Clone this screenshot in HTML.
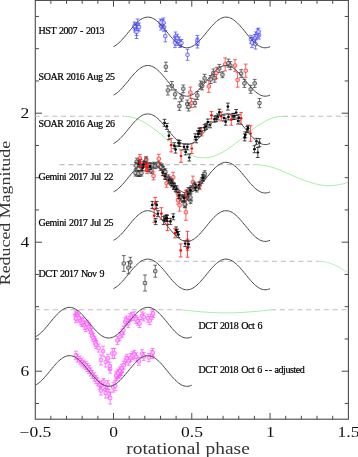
<!DOCTYPE html>
<html><head><meta charset="utf-8"><style>
html,body{margin:0;padding:0;background:#fff;width:358px;height:457px;overflow:hidden}
svg{display:block;will-change:transform}
</style></head><body>
<svg width="358" height="457" viewBox="0 0 358 457">
<rect x="35.3" y="0.4" width="313.09999999999997" height="418.8" fill="none" stroke="#4a4a4a" stroke-width="1.1"/>
<line x1="50.88" y1="419.2" x2="50.88" y2="415.8" stroke="#4a4a4a" stroke-width="1"/>
<line x1="50.88" y1="0.4" x2="50.88" y2="3.8" stroke="#4a4a4a" stroke-width="1"/>
<line x1="66.53" y1="419.2" x2="66.53" y2="415.8" stroke="#4a4a4a" stroke-width="1"/>
<line x1="66.53" y1="0.4" x2="66.53" y2="3.8" stroke="#4a4a4a" stroke-width="1"/>
<line x1="82.19" y1="419.2" x2="82.19" y2="415.8" stroke="#4a4a4a" stroke-width="1"/>
<line x1="82.19" y1="0.4" x2="82.19" y2="3.8" stroke="#4a4a4a" stroke-width="1"/>
<line x1="97.84" y1="419.2" x2="97.84" y2="415.8" stroke="#4a4a4a" stroke-width="1"/>
<line x1="97.84" y1="0.4" x2="97.84" y2="3.8" stroke="#4a4a4a" stroke-width="1"/>
<line x1="113.50" y1="419.2" x2="113.50" y2="412.9" stroke="#4a4a4a" stroke-width="1"/>
<line x1="113.50" y1="0.4" x2="113.50" y2="6.7" stroke="#4a4a4a" stroke-width="1"/>
<line x1="129.16" y1="419.2" x2="129.16" y2="415.8" stroke="#4a4a4a" stroke-width="1"/>
<line x1="129.16" y1="0.4" x2="129.16" y2="3.8" stroke="#4a4a4a" stroke-width="1"/>
<line x1="144.81" y1="419.2" x2="144.81" y2="415.8" stroke="#4a4a4a" stroke-width="1"/>
<line x1="144.81" y1="0.4" x2="144.81" y2="3.8" stroke="#4a4a4a" stroke-width="1"/>
<line x1="160.47" y1="419.2" x2="160.47" y2="415.8" stroke="#4a4a4a" stroke-width="1"/>
<line x1="160.47" y1="0.4" x2="160.47" y2="3.8" stroke="#4a4a4a" stroke-width="1"/>
<line x1="176.12" y1="419.2" x2="176.12" y2="415.8" stroke="#4a4a4a" stroke-width="1"/>
<line x1="176.12" y1="0.4" x2="176.12" y2="3.8" stroke="#4a4a4a" stroke-width="1"/>
<line x1="191.78" y1="419.2" x2="191.78" y2="412.9" stroke="#4a4a4a" stroke-width="1"/>
<line x1="191.78" y1="0.4" x2="191.78" y2="6.7" stroke="#4a4a4a" stroke-width="1"/>
<line x1="207.44" y1="419.2" x2="207.44" y2="415.8" stroke="#4a4a4a" stroke-width="1"/>
<line x1="207.44" y1="0.4" x2="207.44" y2="3.8" stroke="#4a4a4a" stroke-width="1"/>
<line x1="223.09" y1="419.2" x2="223.09" y2="415.8" stroke="#4a4a4a" stroke-width="1"/>
<line x1="223.09" y1="0.4" x2="223.09" y2="3.8" stroke="#4a4a4a" stroke-width="1"/>
<line x1="238.75" y1="419.2" x2="238.75" y2="415.8" stroke="#4a4a4a" stroke-width="1"/>
<line x1="238.75" y1="0.4" x2="238.75" y2="3.8" stroke="#4a4a4a" stroke-width="1"/>
<line x1="254.40" y1="419.2" x2="254.40" y2="415.8" stroke="#4a4a4a" stroke-width="1"/>
<line x1="254.40" y1="0.4" x2="254.40" y2="3.8" stroke="#4a4a4a" stroke-width="1"/>
<line x1="270.06" y1="419.2" x2="270.06" y2="412.9" stroke="#4a4a4a" stroke-width="1"/>
<line x1="270.06" y1="0.4" x2="270.06" y2="6.7" stroke="#4a4a4a" stroke-width="1"/>
<line x1="285.72" y1="419.2" x2="285.72" y2="415.8" stroke="#4a4a4a" stroke-width="1"/>
<line x1="285.72" y1="0.4" x2="285.72" y2="3.8" stroke="#4a4a4a" stroke-width="1"/>
<line x1="301.37" y1="419.2" x2="301.37" y2="415.8" stroke="#4a4a4a" stroke-width="1"/>
<line x1="301.37" y1="0.4" x2="301.37" y2="3.8" stroke="#4a4a4a" stroke-width="1"/>
<line x1="317.03" y1="419.2" x2="317.03" y2="415.8" stroke="#4a4a4a" stroke-width="1"/>
<line x1="317.03" y1="0.4" x2="317.03" y2="3.8" stroke="#4a4a4a" stroke-width="1"/>
<line x1="332.68" y1="419.2" x2="332.68" y2="415.8" stroke="#4a4a4a" stroke-width="1"/>
<line x1="332.68" y1="0.4" x2="332.68" y2="3.8" stroke="#4a4a4a" stroke-width="1"/>
<line x1="35.3" y1="16.45" x2="39.0" y2="16.45" stroke="#4a4a4a" stroke-width="1"/>
<line x1="348.4" y1="16.45" x2="344.7" y2="16.45" stroke="#4a4a4a" stroke-width="1"/>
<line x1="35.3" y1="48.70" x2="39.0" y2="48.70" stroke="#4a4a4a" stroke-width="1"/>
<line x1="348.4" y1="48.70" x2="344.7" y2="48.70" stroke="#4a4a4a" stroke-width="1"/>
<line x1="35.3" y1="80.95" x2="39.0" y2="80.95" stroke="#4a4a4a" stroke-width="1"/>
<line x1="348.4" y1="80.95" x2="344.7" y2="80.95" stroke="#4a4a4a" stroke-width="1"/>
<line x1="35.3" y1="113.20" x2="42.0" y2="113.20" stroke="#4a4a4a" stroke-width="1"/>
<line x1="348.4" y1="113.20" x2="341.7" y2="113.20" stroke="#4a4a4a" stroke-width="1"/>
<line x1="35.3" y1="145.45" x2="39.0" y2="145.45" stroke="#4a4a4a" stroke-width="1"/>
<line x1="348.4" y1="145.45" x2="344.7" y2="145.45" stroke="#4a4a4a" stroke-width="1"/>
<line x1="35.3" y1="177.70" x2="39.0" y2="177.70" stroke="#4a4a4a" stroke-width="1"/>
<line x1="348.4" y1="177.70" x2="344.7" y2="177.70" stroke="#4a4a4a" stroke-width="1"/>
<line x1="35.3" y1="209.95" x2="39.0" y2="209.95" stroke="#4a4a4a" stroke-width="1"/>
<line x1="348.4" y1="209.95" x2="344.7" y2="209.95" stroke="#4a4a4a" stroke-width="1"/>
<line x1="35.3" y1="242.20" x2="42.0" y2="242.20" stroke="#4a4a4a" stroke-width="1"/>
<line x1="348.4" y1="242.20" x2="341.7" y2="242.20" stroke="#4a4a4a" stroke-width="1"/>
<line x1="35.3" y1="274.45" x2="39.0" y2="274.45" stroke="#4a4a4a" stroke-width="1"/>
<line x1="348.4" y1="274.45" x2="344.7" y2="274.45" stroke="#4a4a4a" stroke-width="1"/>
<line x1="35.3" y1="306.70" x2="39.0" y2="306.70" stroke="#4a4a4a" stroke-width="1"/>
<line x1="348.4" y1="306.70" x2="344.7" y2="306.70" stroke="#4a4a4a" stroke-width="1"/>
<line x1="35.3" y1="338.95" x2="39.0" y2="338.95" stroke="#4a4a4a" stroke-width="1"/>
<line x1="348.4" y1="338.95" x2="344.7" y2="338.95" stroke="#4a4a4a" stroke-width="1"/>
<line x1="35.3" y1="371.20" x2="42.0" y2="371.20" stroke="#4a4a4a" stroke-width="1"/>
<line x1="348.4" y1="371.20" x2="341.7" y2="371.20" stroke="#4a4a4a" stroke-width="1"/>
<line x1="35.3" y1="403.45" x2="39.0" y2="403.45" stroke="#4a4a4a" stroke-width="1"/>
<line x1="348.4" y1="403.45" x2="344.7" y2="403.45" stroke="#4a4a4a" stroke-width="1"/>
<text transform="translate(24.9,117.80) scale(1.27,1)" text-anchor="middle" font-family="Liberation Serif, serif" font-size="13.8" fill="#111">2</text>
<text transform="translate(24.9,246.80) scale(1.27,1)" text-anchor="middle" font-family="Liberation Serif, serif" font-size="13.8" fill="#111">4</text>
<text transform="translate(24.9,375.80) scale(1.27,1)" text-anchor="middle" font-family="Liberation Serif, serif" font-size="13.8" fill="#111">6</text>
<text transform="translate(35.42,436.9) scale(1.27,1)" text-anchor="middle" font-family="Liberation Serif, serif" font-size="13.8" fill="#111">−0.5</text>
<text transform="translate(113.70,436.9) scale(1.27,1)" text-anchor="middle" font-family="Liberation Serif, serif" font-size="13.8" fill="#111">0</text>
<text transform="translate(191.98,436.9) scale(1.27,1)" text-anchor="middle" font-family="Liberation Serif, serif" font-size="13.8" fill="#111">0.5</text>
<text transform="translate(270.26,436.9) scale(1.27,1)" text-anchor="middle" font-family="Liberation Serif, serif" font-size="13.8" fill="#111">1</text>
<text transform="translate(348.54,436.9) scale(1.27,1)" text-anchor="middle" font-family="Liberation Serif, serif" font-size="13.8" fill="#111">1.5</text>
<text x="126.3" y="454.1" font-family="Liberation Serif, serif" font-size="17.5" fill="#333" textLength="123.5" lengthAdjust="spacingAndGlyphs">rotational phase</text>
<text transform="translate(10.2,285.3) rotate(-90)" font-family="Liberation Serif, serif" font-size="15.5" fill="#333" textLength="144.5" lengthAdjust="spacingAndGlyphs">Reduced Magnitude</text>
<text x="38.6" y="33.7" font-family="Liberation Serif, serif" font-size="10" fill="#000" stroke="#000" stroke-width="0.22" word-spacing="1.0" textLength="65.9" lengthAdjust="spacing">HST 2007 - 2013</text>
<text x="38.6" y="79.8" font-family="Liberation Serif, serif" font-size="10" fill="#000" stroke="#000" stroke-width="0.22" word-spacing="1.0" textLength="76.4" lengthAdjust="spacing">SOAR 2016 Aug 25</text>
<text x="38.6" y="126.8" font-family="Liberation Serif, serif" font-size="10" fill="#000" stroke="#000" stroke-width="0.22" word-spacing="1.0" textLength="76.4" lengthAdjust="spacing">SOAR 2016 Aug 26</text>
<text x="38.6" y="179.7" font-family="Liberation Serif, serif" font-size="10" fill="#000" stroke="#000" stroke-width="0.22" word-spacing="1.0" textLength="74.9" lengthAdjust="spacing">Gemini 2017 Jul 22</text>
<text x="38.6" y="226.0" font-family="Liberation Serif, serif" font-size="10" fill="#000" stroke="#000" stroke-width="0.22" word-spacing="1.0" textLength="74.9" lengthAdjust="spacing">Gemini 2017 Jul 25</text>
<text x="38.6" y="277.1" font-family="Liberation Serif, serif" font-size="10" fill="#000" stroke="#000" stroke-width="0.22" word-spacing="1.0" textLength="66.0" lengthAdjust="spacing">DCT 2017 Nov 9</text>
<text x="198.5" y="329.0" font-family="Liberation Serif, serif" font-size="10" fill="#000" stroke="#000" stroke-width="0.22" word-spacing="1.0" textLength="63.9" lengthAdjust="spacing">DCT 2018 Oct 6</text>
<text x="198.5" y="373.0" font-family="Liberation Serif, serif" font-size="10" fill="#000" stroke="#000" stroke-width="0.22" word-spacing="1.0" textLength="106.2" lengthAdjust="spacing">DCT 2018 Oct 6 -<tspan dx="0.9">-</tspan> adjusted</text>
<line x1="34.7" y1="116.3" x2="124" y2="116.3" stroke="#bdbdbd" stroke-width="1.1" stroke-dasharray="5,3.8" fill="none"/>
<path d="M124.50,116.30 L127.14,116.41 L129.78,116.75 L132.43,117.32 L135.07,118.09 L137.71,119.08 L140.35,120.26 L142.99,121.63 L145.63,123.17 L148.28,124.85 L150.92,126.67 L153.56,128.61 L156.20,130.64 L158.84,132.74 L161.48,134.88 L164.12,137.05 L166.77,139.22 L169.41,141.36 L172.05,143.46 L174.69,145.49 L177.33,147.43 L179.97,149.25 L182.62,150.93 L185.26,152.47 L187.90,153.84 L190.54,155.02 L193.18,156.01 L195.82,156.78 L198.47,157.35 L201.11,157.69 L203.75,157.80 L206.39,157.69 L209.03,157.35 L211.68,156.78 L214.32,156.01 L216.96,155.02 L219.60,153.84 L222.24,152.47 L224.88,150.93 L227.53,149.25 L230.17,147.42 L232.81,145.49 L235.45,143.46 L238.09,141.36 L240.73,139.22 L243.38,137.05 L246.02,134.88 L248.66,132.74 L251.30,130.64 L253.94,128.61 L256.58,126.67 L259.23,124.85 L261.87,123.17 L264.51,121.63 L267.15,120.26 L269.79,119.08 L272.43,118.09 L275.07,117.32 L277.72,116.75 L280.36,116.41 L283.00,116.30" stroke="#a6eca6" stroke-width="1" fill="none"/>
<line x1="283" y1="116.3" x2="348" y2="116.3" stroke="#bdbdbd" stroke-width="1.1" stroke-dasharray="5,3.8" fill="none"/>
<line x1="59.6" y1="164.6" x2="254.5" y2="164.6" stroke="#bdbdbd" stroke-width="1.1" stroke-dasharray="5,3.8" fill="none"/>
<path d="M254.50,164.60 L256.06,164.62 L257.62,164.69 L259.18,164.80 L260.73,164.96 L262.29,165.16 L263.85,165.41 L265.41,165.69 L266.97,166.02 L268.52,166.38 L270.08,166.79 L271.64,167.23 L273.20,167.70 L274.76,168.20 L276.32,168.74 L277.88,169.30 L279.43,169.89 L280.99,170.50 L282.55,171.13 L284.11,171.77 L285.67,172.44 L287.23,173.11 L288.78,173.79 L290.34,174.48 L291.90,175.17 L293.46,175.86 L295.02,176.54 L296.57,177.22 L298.13,177.89 L299.69,178.55 L301.25,179.19 L302.81,179.82 L304.37,180.43 L305.93,181.01 L307.48,181.57 L309.04,182.10 L310.60,182.59 L312.16,183.06 L313.72,183.49 L315.27,183.89 L316.83,184.25 L318.39,184.57 L319.95,184.84 L321.51,185.08 L323.07,185.27 L324.62,185.42 L326.18,185.53 L327.74,185.59 L329.30,185.60 L330.86,185.57 L332.42,185.49 L333.98,185.37 L335.53,185.20 L337.09,184.99 L338.65,184.74 L340.21,184.45 L341.77,184.11 L343.32,183.74 L344.88,183.33 L346.44,182.89 L348.00,182.41" stroke="#a6eca6" stroke-width="1" fill="none"/>
<line x1="140" y1="261.3" x2="318.5" y2="261.3" stroke="#bdbdbd" stroke-width="1.1" stroke-dasharray="5,3.8" fill="none"/>
<path d="M318.50,261.30 L318.99,261.30 L319.48,261.31 L319.98,261.33 L320.47,261.36 L320.96,261.39 L321.45,261.43 L321.94,261.48 L322.43,261.53 L322.93,261.59 L323.42,261.66 L323.91,261.73 L324.40,261.82 L324.89,261.91 L325.38,262.00 L325.88,262.10 L326.37,262.21 L326.86,262.33 L327.35,262.45 L327.84,262.58 L328.33,262.72 L328.82,262.87 L329.32,263.02 L329.81,263.17 L330.30,263.33 L330.79,263.50 L331.28,263.68 L331.77,263.86 L332.27,264.05 L332.76,264.24 L333.25,264.44 L333.74,264.65 L334.23,264.86 L334.73,265.08 L335.22,265.30 L335.71,265.53 L336.20,265.76 L336.69,266.00 L337.18,266.25 L337.68,266.50 L338.17,266.75 L338.66,267.01 L339.15,267.27 L339.64,267.54 L340.13,267.82 L340.62,268.09 L341.12,268.37 L341.61,268.66 L342.10,268.95 L342.59,269.25 L343.08,269.54 L343.57,269.85 L344.07,270.15 L344.56,270.46 L345.05,270.77 L345.54,271.09 L346.03,271.41 L346.52,271.73 L347.02,272.05 L347.51,272.38 L348.00,272.71" stroke="#a6eca6" stroke-width="1" fill="none"/>
<line x1="35.2" y1="309.8" x2="181" y2="309.8" stroke="#bdbdbd" stroke-width="1.1" stroke-dasharray="5,3.8" fill="none"/>
<path d="M181,309.8 L181.0,309.80 L182.5,309.96 L184.0,310.12 L185.5,310.28 L187.0,310.44 L188.5,310.60 L190.0,310.76 L191.5,310.91 L193.0,311.06 L194.5,311.21 L196.0,311.35 L197.5,311.49 L199.0,311.62 L200.5,311.75 L202.0,311.87 L203.5,311.99 L205.0,312.10 L206.5,312.21 L208.0,312.31 L209.5,312.40 L211.0,312.48 L212.5,312.56 L214.0,312.63 L215.5,312.69 L217.0,312.75 L218.5,312.79 L220.0,312.83 L221.5,312.86 L223.0,312.88 L224.5,312.90 L226.0,312.90 L227.5,312.90 L229.0,312.88 L230.5,312.86 L232.0,312.83 L233.5,312.79 L235.0,312.75 L236.5,312.69 L238.0,312.63 L239.5,312.56 L241.0,312.48 L242.5,312.40 L244.0,312.31 L245.5,312.21 L247.0,312.10 L248.5,311.99 L250.0,311.87 L251.5,311.75 L253.0,311.62 L254.5,311.49 L256.0,311.35 L257.5,311.21 L259.0,311.06 L260.5,310.91 L262.0,310.76 L263.5,310.60 L265.0,310.44 L266.5,310.28 L268.0,310.12 L269.5,309.96 L271.0,309.80" stroke="#a6eca6" stroke-width="1" fill="none"/>
<line x1="271" y1="309.8" x2="348" y2="309.8" stroke="#bdbdbd" stroke-width="1.1" stroke-dasharray="5,3.8" fill="none"/>
<path d="M135.7,19.0h3.8M137.6,19.0V23.3M137.6,26.3V30.6M135.7,30.6h3.8" stroke="#4646ff" stroke-width="0.7" fill="none"/>
<rect x="135.9" y="23.2" width="3.4" height="3.2" rx="0.7" fill="#dcdcff" stroke="#4646ff" stroke-width="0.7"/>
<path d="M133.1,23.0h3.8M135.0,23.0V26.0M135.0,29.0V32.0M133.1,32.0h3.8" stroke="#4646ff" stroke-width="0.7" fill="none"/>
<rect x="133.3" y="25.9" width="3.4" height="3.2" rx="0.7" fill="#dcdcff" stroke="#4646ff" stroke-width="0.7"/>
<path d="M134.6,24.5h3.8M136.5,24.5V28.5M136.5,31.5V35.5M134.6,35.5h3.8" stroke="#4646ff" stroke-width="0.7" fill="none"/>
<rect x="134.8" y="28.4" width="3.4" height="3.2" rx="0.7" fill="#dcdcff" stroke="#4646ff" stroke-width="0.7"/>
<path d="M132.6,22.0h3.8M134.5,22.0V24.5M134.5,27.5V30.0M132.6,30.0h3.8" stroke="#4646ff" stroke-width="0.7" fill="none"/>
<rect x="132.8" y="24.4" width="3.4" height="3.2" rx="0.7" fill="#dcdcff" stroke="#4646ff" stroke-width="0.7"/>
<path d="M137.1,23.0h3.8M139.0,23.0V25.5M139.0,28.5V31.0M137.1,31.0h3.8" stroke="#4646ff" stroke-width="0.7" fill="none"/>
<rect x="137.3" y="25.4" width="3.4" height="3.2" rx="0.7" fill="#dcdcff" stroke="#4646ff" stroke-width="0.7"/>
<path d="M134.6,25.5h3.8M136.5,25.5V30.5M136.5,33.5V38.5M134.6,38.5h3.8" stroke="#4646ff" stroke-width="0.7" fill="none"/>
<rect x="134.8" y="30.4" width="3.4" height="3.2" rx="0.7" fill="#dcdcff" stroke="#4646ff" stroke-width="0.7"/>
<path d="M160.6,19.5h3.8M162.5,19.5V22.5M162.5,25.5V28.5M160.6,28.5h3.8" stroke="#4646ff" stroke-width="0.7" fill="none"/>
<rect x="160.8" y="22.4" width="3.4" height="3.2" rx="0.7" fill="#dcdcff" stroke="#4646ff" stroke-width="0.7"/>
<path d="M159.1,22.0h3.8M161.0,22.0V24.5M161.0,27.5V30.0M159.1,30.0h3.8" stroke="#4646ff" stroke-width="0.7" fill="none"/>
<rect x="159.3" y="24.4" width="3.4" height="3.2" rx="0.7" fill="#dcdcff" stroke="#4646ff" stroke-width="0.7"/>
<path d="M162.1,23.3h3.8M164.0,23.3V25.8M164.0,28.8V31.3M162.1,31.3h3.8" stroke="#4646ff" stroke-width="0.7" fill="none"/>
<rect x="162.3" y="25.7" width="3.4" height="3.2" rx="0.7" fill="#dcdcff" stroke="#4646ff" stroke-width="0.7"/>
<path d="M161.6,18.0h3.8M163.5,18.0V21.0M163.5,24.0V27.0M161.6,27.0h3.8" stroke="#4646ff" stroke-width="0.7" fill="none"/>
<rect x="161.8" y="20.9" width="3.4" height="3.2" rx="0.7" fill="#dcdcff" stroke="#4646ff" stroke-width="0.7"/>
<path d="M158.6,19.0h3.8M160.5,19.0V21.0M160.5,24.0V26.0M158.6,26.0h3.8" stroke="#4646ff" stroke-width="0.7" fill="none"/>
<rect x="158.8" y="20.9" width="3.4" height="3.2" rx="0.7" fill="#dcdcff" stroke="#4646ff" stroke-width="0.7"/>
<path d="M163.4,30.4h3.8M165.3,30.4V34.6M165.3,37.6V41.8M163.4,41.8h3.8" stroke="#4646ff" stroke-width="0.7" fill="none"/>
<rect x="163.6" y="34.5" width="3.4" height="3.2" rx="0.7" fill="#dcdcff" stroke="#4646ff" stroke-width="0.7"/>
<path d="M173.6,32.0h3.8M175.5,32.0V35.0M175.5,38.0V41.0M173.6,41.0h3.8" stroke="#4646ff" stroke-width="0.7" fill="none"/>
<rect x="173.8" y="34.9" width="3.4" height="3.2" rx="0.7" fill="#dcdcff" stroke="#4646ff" stroke-width="0.7"/>
<path d="M174.1,36.5h3.8M176.0,36.5V39.5M176.0,42.5V45.5M174.1,45.5h3.8" stroke="#4646ff" stroke-width="0.7" fill="none"/>
<rect x="174.3" y="39.4" width="3.4" height="3.2" rx="0.7" fill="#dcdcff" stroke="#4646ff" stroke-width="0.7"/>
<path d="M173.1,37.6h3.8M175.0,37.6V41.1M175.0,44.1V47.6M173.1,47.6h3.8" stroke="#4646ff" stroke-width="0.7" fill="none"/>
<rect x="173.3" y="41.0" width="3.4" height="3.2" rx="0.7" fill="#dcdcff" stroke="#4646ff" stroke-width="0.7"/>
<path d="M175.6,34.2h3.8M177.5,34.2V36.7M177.5,39.7V42.2M175.6,42.2h3.8" stroke="#4646ff" stroke-width="0.7" fill="none"/>
<rect x="175.8" y="36.6" width="3.4" height="3.2" rx="0.7" fill="#dcdcff" stroke="#4646ff" stroke-width="0.7"/>
<path d="M177.1,37.0h3.8M179.0,37.0V39.5M179.0,42.5V45.0M177.1,45.0h3.8" stroke="#4646ff" stroke-width="0.7" fill="none"/>
<rect x="177.3" y="39.4" width="3.4" height="3.2" rx="0.7" fill="#dcdcff" stroke="#4646ff" stroke-width="0.7"/>
<path d="M178.1,40.5h3.8M180.0,40.5V42.5M180.0,45.5V47.5M178.1,47.5h3.8" stroke="#4646ff" stroke-width="0.7" fill="none"/>
<rect x="178.3" y="42.4" width="3.4" height="3.2" rx="0.7" fill="#dcdcff" stroke="#4646ff" stroke-width="0.7"/>
<path d="M179.6,39.5h3.8M181.5,39.5V41.5M181.5,44.5V46.5M179.6,46.5h3.8" stroke="#4646ff" stroke-width="0.7" fill="none"/>
<rect x="179.8" y="41.4" width="3.4" height="3.2" rx="0.7" fill="#dcdcff" stroke="#4646ff" stroke-width="0.7"/>
<path d="M185.6,49.3h3.8M187.5,49.3V53.3M187.5,56.3V60.3M185.6,60.3h3.8" stroke="#4646ff" stroke-width="0.7" fill="none"/>
<rect x="185.8" y="53.2" width="3.4" height="3.2" rx="0.7" fill="#dcdcff" stroke="#4646ff" stroke-width="0.7"/>
<path d="M195.5,35.5h3.8M197.4,35.5V39.0M197.4,42.0V45.5M195.5,45.5h3.8" stroke="#4646ff" stroke-width="0.7" fill="none"/>
<rect x="195.7" y="38.9" width="3.4" height="3.2" rx="0.7" fill="#dcdcff" stroke="#4646ff" stroke-width="0.7"/>
<path d="M195.5,38.0h3.8M197.4,38.0V41.5M197.4,44.5V48.0M195.5,48.0h3.8" stroke="#4646ff" stroke-width="0.7" fill="none"/>
<rect x="195.7" y="41.4" width="3.4" height="3.2" rx="0.7" fill="#dcdcff" stroke="#4646ff" stroke-width="0.7"/>
<path d="M255.6,28.9h3.8M257.5,28.9V31.9M257.5,34.9V37.9M255.6,37.9h3.8" stroke="#4646ff" stroke-width="0.7" fill="none"/>
<rect x="255.8" y="31.8" width="3.4" height="3.2" rx="0.7" fill="#dcdcff" stroke="#4646ff" stroke-width="0.7"/>
<path d="M257.1,31.1h3.8M259.0,31.1V33.6M259.0,36.6V39.1M257.1,39.1h3.8" stroke="#4646ff" stroke-width="0.7" fill="none"/>
<rect x="257.3" y="33.5" width="3.4" height="3.2" rx="0.7" fill="#dcdcff" stroke="#4646ff" stroke-width="0.7"/>
<path d="M254.1,31.9h3.8M256.0,31.9V34.4M256.0,37.4V39.9M254.1,39.9h3.8" stroke="#4646ff" stroke-width="0.7" fill="none"/>
<rect x="254.3" y="34.3" width="3.4" height="3.2" rx="0.7" fill="#dcdcff" stroke="#4646ff" stroke-width="0.7"/>
<path d="M256.6,28.2h3.8M258.5,28.2V30.2M258.5,33.2V35.2M256.6,35.2h3.8" stroke="#4646ff" stroke-width="0.7" fill="none"/>
<rect x="256.8" y="30.1" width="3.4" height="3.2" rx="0.7" fill="#dcdcff" stroke="#4646ff" stroke-width="0.7"/>
<path d="M249.1,35.3h3.8M251.0,35.3V37.8M251.0,40.8V43.3M249.1,43.3h3.8" stroke="#4646ff" stroke-width="0.7" fill="none"/>
<rect x="249.3" y="37.7" width="3.4" height="3.2" rx="0.7" fill="#dcdcff" stroke="#4646ff" stroke-width="0.7"/>
<path d="M251.6,37.0h3.8M253.5,37.0V39.5M253.5,42.5V45.0M251.6,45.0h3.8" stroke="#4646ff" stroke-width="0.7" fill="none"/>
<rect x="251.8" y="39.4" width="3.4" height="3.2" rx="0.7" fill="#dcdcff" stroke="#4646ff" stroke-width="0.7"/>
<path d="M250.1,37.6h3.8M252.0,37.6V41.1M252.0,44.1V47.6M250.1,47.6h3.8" stroke="#4646ff" stroke-width="0.7" fill="none"/>
<rect x="250.3" y="41.0" width="3.4" height="3.2" rx="0.7" fill="#dcdcff" stroke="#4646ff" stroke-width="0.7"/>
<path d="M253.1,34.4h3.8M255.0,34.4V36.9M255.0,39.9V42.4M253.1,42.4h3.8" stroke="#4646ff" stroke-width="0.7" fill="none"/>
<rect x="253.3" y="36.8" width="3.4" height="3.2" rx="0.7" fill="#dcdcff" stroke="#4646ff" stroke-width="0.7"/>
<path d="M253.6,39.0h3.8M255.5,39.0V42.5M255.5,45.5V49.0M253.6,49.0h3.8" stroke="#4646ff" stroke-width="0.7" fill="none"/>
<rect x="253.8" y="42.4" width="3.4" height="3.2" rx="0.7" fill="#dcdcff" stroke="#4646ff" stroke-width="0.7"/>
<path d="M164.0,62.2h3.8M165.9,62.2V65.3M165.9,68.3V71.4M164.0,71.4h3.8" stroke="#303030" stroke-width="0.7" fill="none"/>
<rect x="164.2" y="65.2" width="3.4" height="3.2" rx="0.7" fill="#c8c8c8" stroke="#303030" stroke-width="0.7"/>
<path d="M166.0,85.8h3.8M167.9,85.8V88.9M167.9,91.9V95.0M166.0,95.0h3.8" stroke="#303030" stroke-width="0.7" fill="none"/>
<rect x="166.2" y="88.8" width="3.4" height="3.2" rx="0.7" fill="#c8c8c8" stroke="#303030" stroke-width="0.7"/>
<path d="M169.9,81.5h3.8M171.8,81.5V84.3M171.8,87.3V90.1M169.9,90.1h3.8" stroke="#303030" stroke-width="0.7" fill="none"/>
<rect x="170.1" y="84.2" width="3.4" height="3.2" rx="0.7" fill="#c8c8c8" stroke="#303030" stroke-width="0.7"/>
<path d="M173.2,89.8h3.8M175.1,89.8V92.8M175.1,95.8V98.8M173.2,98.8h3.8" stroke="#303030" stroke-width="0.7" fill="none"/>
<rect x="173.4" y="92.7" width="3.4" height="3.2" rx="0.7" fill="#c8c8c8" stroke="#303030" stroke-width="0.7"/>
<path d="M177.5,101.8h3.8M179.4,101.8V104.6M179.4,107.6V110.4M177.5,110.4h3.8" stroke="#303030" stroke-width="0.7" fill="none"/>
<rect x="177.7" y="104.5" width="3.4" height="3.2" rx="0.7" fill="#c8c8c8" stroke="#303030" stroke-width="0.7"/>
<path d="M179.7,94.0h3.8M181.6,94.0V96.1M181.6,99.1V101.2M179.7,101.2h3.8" stroke="#303030" stroke-width="0.7" fill="none"/>
<rect x="179.9" y="96.0" width="3.4" height="3.2" rx="0.7" fill="#c8c8c8" stroke="#303030" stroke-width="0.7"/>
<path d="M181.4,85.0h3.8M183.3,85.0V87.3M183.3,90.3V92.6M181.4,92.6h3.8" stroke="#303030" stroke-width="0.7" fill="none"/>
<rect x="181.6" y="87.2" width="3.4" height="3.2" rx="0.7" fill="#c8c8c8" stroke="#303030" stroke-width="0.7"/>
<path d="M188.5,87.1h3.8M190.4,87.1V91.1M190.4,94.1V98.1M188.5,98.1h3.8" stroke="#ff2020" stroke-width="0.7" fill="none"/>
<rect x="188.7" y="91.0" width="3.4" height="3.2" rx="0.7" fill="#ffc8c8" stroke="#ff2020" stroke-width="0.7"/>
<path d="M189.7,98.5h3.8M191.6,98.5V101.5M191.6,104.5V107.5M189.7,107.5h3.8" stroke="#ff2020" stroke-width="0.7" fill="none"/>
<rect x="189.9" y="101.4" width="3.4" height="3.2" rx="0.7" fill="#ffc8c8" stroke="#ff2020" stroke-width="0.7"/>
<path d="M185.4,100.0h3.8M187.3,100.0V102.5M187.3,105.5V108.0M185.4,108.0h3.8" stroke="#303030" stroke-width="0.7" fill="none"/>
<rect x="185.6" y="102.4" width="3.4" height="3.2" rx="0.7" fill="#c8c8c8" stroke="#303030" stroke-width="0.7"/>
<path d="M186.7,103.0h3.8M188.6,103.0V105.5M188.6,108.5V111.0M186.7,111.0h3.8" stroke="#303030" stroke-width="0.7" fill="none"/>
<rect x="186.9" y="105.4" width="3.4" height="3.2" rx="0.7" fill="#c8c8c8" stroke="#303030" stroke-width="0.7"/>
<path d="M193.1,99.0h3.8M195.0,99.0V101.5M195.0,104.5V107.0M193.1,107.0h3.8" stroke="#303030" stroke-width="0.7" fill="none"/>
<rect x="193.3" y="101.4" width="3.4" height="3.2" rx="0.7" fill="#c8c8c8" stroke="#303030" stroke-width="0.7"/>
<path d="M195.4,91.5h3.8M197.3,91.5V94.0M197.3,97.0V99.5M195.4,99.5h3.8" stroke="#303030" stroke-width="0.7" fill="none"/>
<rect x="195.6" y="93.9" width="3.4" height="3.2" rx="0.7" fill="#c8c8c8" stroke="#303030" stroke-width="0.7"/>
<path d="M198.8,81.0h3.8M200.7,81.0V83.5M200.7,86.5V89.0M198.8,89.0h3.8" stroke="#303030" stroke-width="0.7" fill="none"/>
<rect x="199.0" y="83.4" width="3.4" height="3.2" rx="0.7" fill="#c8c8c8" stroke="#303030" stroke-width="0.7"/>
<path d="M200.3,81.9h3.8M202.2,81.9V84.4M202.2,87.4V89.9M200.3,89.9h3.8" stroke="#303030" stroke-width="0.7" fill="none"/>
<rect x="200.5" y="84.3" width="3.4" height="3.2" rx="0.7" fill="#c8c8c8" stroke="#303030" stroke-width="0.7"/>
<path d="M202.7,74.3h3.8M204.6,74.3V76.8M204.6,79.8V82.3M202.7,82.3h3.8" stroke="#303030" stroke-width="0.7" fill="none"/>
<rect x="202.9" y="76.7" width="3.4" height="3.2" rx="0.7" fill="#c8c8c8" stroke="#303030" stroke-width="0.7"/>
<path d="M206.9,80.4h3.8M208.8,80.4V84.9M208.8,87.9V92.4M206.9,92.4h3.8" stroke="#ff2020" stroke-width="0.7" fill="none"/>
<rect x="207.1" y="84.8" width="3.4" height="3.2" rx="0.7" fill="#ffc8c8" stroke="#ff2020" stroke-width="0.7"/>
<path d="M208.8,75.5h3.8M210.7,75.5V78.0M210.7,81.0V83.5M208.8,83.5h3.8" stroke="#303030" stroke-width="0.7" fill="none"/>
<rect x="209.0" y="77.9" width="3.4" height="3.2" rx="0.7" fill="#c8c8c8" stroke="#303030" stroke-width="0.7"/>
<path d="M211.5,69.0h3.8M213.4,69.0V71.5M213.4,74.5V77.0M211.5,77.0h3.8" stroke="#303030" stroke-width="0.7" fill="none"/>
<rect x="211.7" y="71.4" width="3.4" height="3.2" rx="0.7" fill="#c8c8c8" stroke="#303030" stroke-width="0.7"/>
<path d="M212.8,74.2h3.8M214.7,74.2V76.7M214.7,79.7V82.2M212.8,82.2h3.8" stroke="#303030" stroke-width="0.7" fill="none"/>
<rect x="213.0" y="76.6" width="3.4" height="3.2" rx="0.7" fill="#c8c8c8" stroke="#303030" stroke-width="0.7"/>
<path d="M214.5,67.3h3.8M216.4,67.3V71.5M216.4,74.5V78.7M214.5,78.7h3.8" stroke="#ff2020" stroke-width="0.7" fill="none"/>
<rect x="214.7" y="71.4" width="3.4" height="3.2" rx="0.7" fill="#ffc8c8" stroke="#ff2020" stroke-width="0.7"/>
<path d="M217.4,64.4h3.8M219.3,64.4V66.9M219.3,69.9V72.4M217.4,72.4h3.8" stroke="#303030" stroke-width="0.7" fill="none"/>
<rect x="217.6" y="66.8" width="3.4" height="3.2" rx="0.7" fill="#c8c8c8" stroke="#303030" stroke-width="0.7"/>
<path d="M220.6,71.7h3.8M222.5,71.7V73.2M222.5,76.2V77.7M220.6,77.7h3.8" stroke="#303030" stroke-width="0.7" fill="none"/>
<rect x="220.8" y="73.1" width="3.4" height="3.2" rx="0.7" fill="#c8c8c8" stroke="#303030" stroke-width="0.7"/>
<path d="M223.3,57.9h3.8M225.2,57.9V62.9M225.2,65.9V70.9M223.3,70.9h3.8" stroke="#ff2020" stroke-width="0.7" fill="none"/>
<rect x="223.5" y="62.8" width="3.4" height="3.2" rx="0.7" fill="#ffc8c8" stroke="#ff2020" stroke-width="0.7"/>
<path d="M226.5,59.1h3.8M228.4,59.1V61.6M228.4,64.6V67.1M226.5,67.1h3.8" stroke="#303030" stroke-width="0.7" fill="none"/>
<rect x="226.7" y="61.5" width="3.4" height="3.2" rx="0.7" fill="#c8c8c8" stroke="#303030" stroke-width="0.7"/>
<path d="M228.5,61.7h3.8M230.4,61.7V64.2M230.4,67.2V69.7M228.5,69.7h3.8" stroke="#303030" stroke-width="0.7" fill="none"/>
<rect x="228.7" y="64.1" width="3.4" height="3.2" rx="0.7" fill="#c8c8c8" stroke="#303030" stroke-width="0.7"/>
<path d="M233.1,59.7h3.8M235.0,59.7V64.0M235.0,67.0V71.3M233.1,71.3h3.8" stroke="#ff2020" stroke-width="0.7" fill="none"/>
<rect x="233.3" y="63.9" width="3.4" height="3.2" rx="0.7" fill="#ffc8c8" stroke="#ff2020" stroke-width="0.7"/>
<path d="M239.2,69.6h3.8M241.1,69.6V72.1M241.1,75.1V77.6M239.2,77.6h3.8" stroke="#303030" stroke-width="0.7" fill="none"/>
<rect x="239.4" y="72.0" width="3.4" height="3.2" rx="0.7" fill="#c8c8c8" stroke="#303030" stroke-width="0.7"/>
<path d="M243.8,64.1h3.8M245.7,64.1V69.2M245.7,72.2V77.3M243.8,77.3h3.8" stroke="#ff2020" stroke-width="0.7" fill="none"/>
<rect x="244.0" y="69.1" width="3.4" height="3.2" rx="0.7" fill="#ffc8c8" stroke="#ff2020" stroke-width="0.7"/>
<path d="M235.7,72.6h3.8M237.6,72.6V78.4M237.6,81.4V87.2M235.7,87.2h3.8" stroke="#ff2020" stroke-width="0.7" fill="none"/>
<rect x="235.9" y="78.3" width="3.4" height="3.2" rx="0.7" fill="#ffc8c8" stroke="#ff2020" stroke-width="0.7"/>
<path d="M242.5,79.4h3.8M244.4,79.4V81.9M244.4,84.9V87.4M242.5,87.4h3.8" stroke="#303030" stroke-width="0.7" fill="none"/>
<rect x="242.7" y="81.8" width="3.4" height="3.2" rx="0.7" fill="#c8c8c8" stroke="#303030" stroke-width="0.7"/>
<path d="M252.8,79.4h3.8M254.7,79.4V81.9M254.7,84.9V87.4M252.8,87.4h3.8" stroke="#303030" stroke-width="0.7" fill="none"/>
<rect x="253.0" y="81.8" width="3.4" height="3.2" rx="0.7" fill="#c8c8c8" stroke="#303030" stroke-width="0.7"/>
<path d="M248.8,85.3h3.8M250.7,85.3V87.8M250.7,90.8V93.3M248.8,93.3h3.8" stroke="#303030" stroke-width="0.7" fill="none"/>
<rect x="249.0" y="87.7" width="3.4" height="3.2" rx="0.7" fill="#c8c8c8" stroke="#303030" stroke-width="0.7"/>
<path d="M257.6,98.5h3.8M259.5,98.5V101.6M259.5,104.6V107.7M257.6,107.7h3.8" stroke="#303030" stroke-width="0.7" fill="none"/>
<rect x="257.8" y="101.5" width="3.4" height="3.2" rx="0.7" fill="#c8c8c8" stroke="#303030" stroke-width="0.7"/>
<path d="M162.6,119.3h3.8M164.5,119.3V121.3M164.5,124.3V126.3M162.6,126.3h3.8" stroke="#000" stroke-width="0.7" fill="none"/>
<circle cx="164.5" cy="122.8" r="1.35" fill="#000"/>
<path d="M165.0,123.4h3.8M166.9,123.4V124.9M166.9,127.9V129.4M165.0,129.4h3.8" stroke="#000" stroke-width="0.7" fill="none"/>
<circle cx="166.9" cy="126.4" r="1.35" fill="#000"/>
<path d="M167.0,131.7h3.8M168.9,131.7V134.2M168.9,137.2V139.7M167.0,139.7h3.8" stroke="#000" stroke-width="0.7" fill="none"/>
<circle cx="168.9" cy="135.7" r="1.35" fill="#000"/>
<path d="M169.3,138.5h3.8M171.2,138.5V143.7M171.2,146.7V151.9M169.3,151.9h3.8" stroke="#ff0000" stroke-width="0.7" fill="none"/>
<circle cx="171.2" cy="145.2" r="1.35" fill="#ff0000"/>
<path d="M172.4,142.7h3.8M174.3,142.7V144.2M174.3,147.2V148.7M172.4,148.7h3.8" stroke="#000" stroke-width="0.7" fill="none"/>
<circle cx="174.3" cy="145.7" r="1.35" fill="#000"/>
<path d="M173.7,146.1h3.8M175.6,146.1V148.1M175.6,151.1V153.1M173.7,153.1h3.8" stroke="#000" stroke-width="0.7" fill="none"/>
<circle cx="175.6" cy="149.6" r="1.35" fill="#000"/>
<path d="M176.5,139.9h3.8M178.4,139.9V141.4M178.4,144.4V145.9M176.5,145.9h3.8" stroke="#000" stroke-width="0.7" fill="none"/>
<circle cx="178.4" cy="142.9" r="1.35" fill="#000"/>
<path d="M177.7,140.5h3.8M179.6,140.5V142.0M179.6,145.0V146.5M177.7,146.5h3.8" stroke="#000" stroke-width="0.7" fill="none"/>
<circle cx="179.6" cy="143.5" r="1.35" fill="#000"/>
<path d="M179.1,149.9h3.8M181.0,149.9V154.6M181.0,157.6V162.3M179.1,162.3h3.8" stroke="#ff0000" stroke-width="0.7" fill="none"/>
<circle cx="181.0" cy="156.1" r="1.35" fill="#ff0000"/>
<path d="M182.1,143.8h3.8M184.0,143.8V145.3M184.0,148.3V149.8M182.1,149.8h3.8" stroke="#000" stroke-width="0.7" fill="none"/>
<circle cx="184.0" cy="146.8" r="1.35" fill="#000"/>
<path d="M183.8,148.9h3.8M185.7,148.9V150.4M185.7,153.4V154.9M183.8,154.9h3.8" stroke="#000" stroke-width="0.7" fill="none"/>
<circle cx="185.7" cy="151.9" r="1.35" fill="#000"/>
<path d="M185.5,143.8h3.8M187.4,143.8V145.3M187.4,148.3V149.8M185.5,149.8h3.8" stroke="#000" stroke-width="0.7" fill="none"/>
<circle cx="187.4" cy="146.8" r="1.35" fill="#000"/>
<path d="M189.9,143.5h3.8M191.8,143.5V147.0M191.8,150.0V153.5M189.9,153.5h3.8" stroke="#ff0000" stroke-width="0.7" fill="none"/>
<circle cx="191.8" cy="148.5" r="1.35" fill="#ff0000"/>
<path d="M187.4,154.0h3.8M189.3,154.0V156.0M189.3,159.0V161.0M187.4,161.0h3.8" stroke="#000" stroke-width="0.7" fill="none"/>
<circle cx="189.3" cy="157.5" r="1.35" fill="#000"/>
<path d="M193.3,133.8h3.8M195.2,133.8V135.3M195.2,138.3V139.8M193.3,139.8h3.8" stroke="#000" stroke-width="0.7" fill="none"/>
<circle cx="195.2" cy="136.8" r="1.35" fill="#000"/>
<path d="M194.4,136.8h3.8M196.3,136.8V138.3M196.3,141.3V142.8M194.4,142.8h3.8" stroke="#000" stroke-width="0.7" fill="none"/>
<circle cx="196.3" cy="139.8" r="1.35" fill="#000"/>
<path d="M196.1,131.0h3.8M198.0,131.0V132.5M198.0,135.5V137.0M196.1,137.0h3.8" stroke="#000" stroke-width="0.7" fill="none"/>
<circle cx="198.0" cy="134.0" r="1.35" fill="#000"/>
<path d="M197.2,128.2h3.8M199.1,128.2V129.7M199.1,132.7V134.2M197.2,134.2h3.8" stroke="#000" stroke-width="0.7" fill="none"/>
<circle cx="199.1" cy="131.2" r="1.35" fill="#000"/>
<path d="M196.5,130.7h3.8M198.4,130.7V132.2M198.4,135.2V136.7M196.5,136.7h3.8" stroke="#000" stroke-width="0.7" fill="none"/>
<circle cx="198.4" cy="133.7" r="1.35" fill="#000"/>
<path d="M199.8,127.5h3.8M201.7,127.5V130.2M201.7,133.2V135.9M199.8,135.9h3.8" stroke="#ff0000" stroke-width="0.7" fill="none"/>
<circle cx="201.7" cy="131.7" r="1.35" fill="#ff0000"/>
<path d="M198.1,127.9h3.8M200.0,127.9V129.4M200.0,132.4V133.9M198.1,133.9h3.8" stroke="#000" stroke-width="0.7" fill="none"/>
<circle cx="200.0" cy="130.9" r="1.35" fill="#000"/>
<path d="M202.6,124.6h3.8M204.5,124.6V126.1M204.5,129.1V130.6M202.6,130.6h3.8" stroke="#000" stroke-width="0.7" fill="none"/>
<circle cx="204.5" cy="127.6" r="1.35" fill="#000"/>
<path d="M204.3,123.4h3.8M206.2,123.4V124.9M206.2,127.9V129.4M204.3,129.4h3.8" stroke="#000" stroke-width="0.7" fill="none"/>
<circle cx="206.2" cy="126.4" r="1.35" fill="#000"/>
<path d="M205.9,119.0h3.8M207.8,119.0V120.5M207.8,123.5V125.0M205.9,125.0h3.8" stroke="#000" stroke-width="0.7" fill="none"/>
<circle cx="207.8" cy="122.0" r="1.35" fill="#000"/>
<path d="M208.2,121.8h3.8M210.1,121.8V123.3M210.1,126.3V127.8M208.2,127.8h3.8" stroke="#000" stroke-width="0.7" fill="none"/>
<circle cx="210.1" cy="124.8" r="1.35" fill="#000"/>
<path d="M209.6,111.6h3.8M211.5,111.6V113.8M211.5,116.8V119.0M209.6,119.0h3.8" stroke="#ff0000" stroke-width="0.7" fill="none"/>
<circle cx="211.5" cy="115.3" r="1.35" fill="#ff0000"/>
<path d="M212.7,116.2h3.8M214.6,116.2V117.7M214.6,120.7V122.2M212.7,122.2h3.8" stroke="#000" stroke-width="0.7" fill="none"/>
<circle cx="214.6" cy="119.2" r="1.35" fill="#000"/>
<path d="M214.3,115.6h3.8M216.2,115.6V117.1M216.2,120.1V121.6M214.3,121.6h3.8" stroke="#000" stroke-width="0.7" fill="none"/>
<circle cx="216.2" cy="118.6" r="1.35" fill="#000"/>
<path d="M216.0,113.9h3.8M217.9,113.9V115.4M217.9,118.4V119.9M216.0,119.9h3.8" stroke="#000" stroke-width="0.7" fill="none"/>
<circle cx="217.9" cy="116.9" r="1.35" fill="#000"/>
<path d="M217.5,109.2h3.8M219.4,109.2V110.7M219.4,113.7V115.2M217.5,115.2h3.8" stroke="#000" stroke-width="0.7" fill="none"/>
<circle cx="219.4" cy="112.2" r="1.35" fill="#000"/>
<path d="M219.4,111.9h3.8M221.3,111.9V114.9M221.3,117.9V120.9M219.4,120.9h3.8" stroke="#ff0000" stroke-width="0.7" fill="none"/>
<circle cx="221.3" cy="116.4" r="1.35" fill="#ff0000"/>
<path d="M222.1,115.0h3.8M224.0,115.0V116.5M224.0,119.5V121.0M222.1,121.0h3.8" stroke="#000" stroke-width="0.7" fill="none"/>
<circle cx="224.0" cy="118.0" r="1.35" fill="#000"/>
<path d="M223.8,118.2h3.8M225.7,118.2V120.2M225.7,123.2V125.2M223.8,125.2h3.8" stroke="#000" stroke-width="0.7" fill="none"/>
<circle cx="225.7" cy="121.7" r="1.35" fill="#000"/>
<path d="M226.6,113.9h3.8M228.5,113.9V115.4M228.5,118.4V119.9M226.6,119.9h3.8" stroke="#000" stroke-width="0.7" fill="none"/>
<circle cx="228.5" cy="116.9" r="1.35" fill="#000"/>
<path d="M226.0,103.1h3.8M227.9,103.1V105.1M227.9,108.1V110.1M226.0,110.1h3.8" stroke="#000" stroke-width="0.7" fill="none"/>
<circle cx="227.9" cy="106.6" r="1.35" fill="#000"/>
<path d="M231.1,113.4h3.8M233.0,113.4V114.9M233.0,117.9V119.4M231.1,119.4h3.8" stroke="#000" stroke-width="0.7" fill="none"/>
<circle cx="233.0" cy="116.4" r="1.35" fill="#000"/>
<path d="M229.4,114.2h3.8M231.3,114.2V118.2M231.3,121.2V125.2M229.4,125.2h3.8" stroke="#ff0000" stroke-width="0.7" fill="none"/>
<circle cx="231.3" cy="119.7" r="1.35" fill="#ff0000"/>
<path d="M232.3,113.4h3.8M234.2,113.4V114.9M234.2,117.9V119.4M232.3,119.4h3.8" stroke="#000" stroke-width="0.7" fill="none"/>
<circle cx="234.2" cy="116.4" r="1.35" fill="#000"/>
<path d="M234.3,109.5h3.8M236.2,109.5V111.0M236.2,114.0V115.5M234.3,115.5h3.8" stroke="#000" stroke-width="0.7" fill="none"/>
<circle cx="236.2" cy="112.5" r="1.35" fill="#000"/>
<path d="M236.2,118.0h3.8M238.1,118.0V119.5M238.1,122.5V124.0M236.2,124.0h3.8" stroke="#000" stroke-width="0.7" fill="none"/>
<circle cx="238.1" cy="121.0" r="1.35" fill="#000"/>
<path d="M239.2,112.4h3.8M241.1,112.4V116.9M241.1,119.9V124.4M239.2,124.4h3.8" stroke="#ff0000" stroke-width="0.7" fill="none"/>
<circle cx="241.1" cy="118.4" r="1.35" fill="#ff0000"/>
<path d="M236.9,114.7h3.8M238.8,114.7V116.2M238.8,119.2V120.7M236.9,120.7h3.8" stroke="#000" stroke-width="0.7" fill="none"/>
<circle cx="238.8" cy="117.7" r="1.35" fill="#000"/>
<path d="M245.4,126.5h3.8M247.3,126.5V128.0M247.3,131.0V132.5M245.4,132.5h3.8" stroke="#000" stroke-width="0.7" fill="none"/>
<circle cx="247.3" cy="129.5" r="1.35" fill="#000"/>
<path d="M246.1,125.2h3.8M248.0,125.2V126.7M248.0,129.7V131.2M246.1,131.2h3.8" stroke="#000" stroke-width="0.7" fill="none"/>
<circle cx="248.0" cy="128.2" r="1.35" fill="#000"/>
<path d="M242.8,133.9h3.8M244.7,133.9V135.9M244.7,138.9V140.9M242.8,140.9h3.8" stroke="#000" stroke-width="0.7" fill="none"/>
<circle cx="244.7" cy="137.4" r="1.35" fill="#000"/>
<path d="M243.4,131.8h3.8M245.3,131.8V133.3M245.3,136.3V137.8M243.4,137.8h3.8" stroke="#000" stroke-width="0.7" fill="none"/>
<circle cx="245.3" cy="134.8" r="1.35" fill="#000"/>
<path d="M248.7,125.7h3.8M250.6,125.7V132.0M250.6,135.0V141.3M248.7,141.3h3.8" stroke="#ff0000" stroke-width="0.7" fill="none"/>
<circle cx="250.6" cy="133.5" r="1.35" fill="#ff0000"/>
<path d="M254.6,138.3h3.8M256.5,138.3V139.8M256.5,142.8V144.3M254.6,144.3h3.8" stroke="#000" stroke-width="0.7" fill="none"/>
<circle cx="256.5" cy="141.3" r="1.35" fill="#000"/>
<path d="M257.5,138.7h3.8M259.4,138.7V141.2M259.4,144.2V146.7M257.5,146.7h3.8" stroke="#000" stroke-width="0.7" fill="none"/>
<circle cx="259.4" cy="142.7" r="1.35" fill="#000"/>
<path d="M252.6,145.7h3.8M254.5,145.7V147.7M254.5,150.7V152.7M252.6,152.7h3.8" stroke="#000" stroke-width="0.7" fill="none"/>
<circle cx="254.5" cy="149.2" r="1.35" fill="#000"/>
<path d="M255.9,147.5h3.8M257.8,147.5V151.0M257.8,154.0V157.5M255.9,157.5h3.8" stroke="#000" stroke-width="0.7" fill="none"/>
<circle cx="257.8" cy="152.5" r="1.35" fill="#000"/>
<path d="M137.9,154.5h3.8M139.8,154.5V156.8M139.8,159.8V162.1M137.9,162.1h3.8" stroke="#ff2020" stroke-width="0.7" fill="none"/>
<rect x="138.1" y="156.7" width="3.4" height="3.2" rx="0.7" fill="#ffc8c8" stroke="#ff2020" stroke-width="0.7"/>
<path d="M134.9,158.2h3.8M136.8,158.2V160.2M136.8,163.2V165.2M134.9,165.2h3.8" stroke="#303030" stroke-width="0.7" fill="none"/>
<rect x="135.1" y="160.1" width="3.4" height="3.2" rx="0.7" fill="#c8c8c8" stroke="#303030" stroke-width="0.7"/>
<path d="M134.0,162.6h3.8M135.9,162.6V164.1M135.9,167.1V168.6M134.0,168.6h3.8" stroke="#303030" stroke-width="0.7" fill="none"/>
<rect x="134.2" y="164.0" width="3.4" height="3.2" rx="0.7" fill="#c8c8c8" stroke="#303030" stroke-width="0.7"/>
<path d="M135.4,170.0h3.8M137.3,170.0V171.5M137.3,174.5V176.0M135.4,176.0h3.8" stroke="#303030" stroke-width="0.7" fill="none"/>
<rect x="135.6" y="171.4" width="3.4" height="3.2" rx="0.7" fill="#c8c8c8" stroke="#303030" stroke-width="0.7"/>
<path d="M137.9,170.5h3.8M139.8,170.5V172.0M139.8,175.0V176.5M137.9,176.5h3.8" stroke="#303030" stroke-width="0.7" fill="none"/>
<rect x="138.1" y="171.9" width="3.4" height="3.2" rx="0.7" fill="#c8c8c8" stroke="#303030" stroke-width="0.7"/>
<path d="M139.8,164.6h3.8M141.7,164.6V166.1M141.7,169.1V170.6M139.8,170.6h3.8" stroke="#303030" stroke-width="0.7" fill="none"/>
<rect x="140.0" y="166.0" width="3.4" height="3.2" rx="0.7" fill="#c8c8c8" stroke="#303030" stroke-width="0.7"/>
<path d="M138.9,159.7h3.8M140.8,159.7V162.2M140.8,165.2V167.7M138.9,167.7h3.8" stroke="#ff2020" stroke-width="0.7" fill="none"/>
<rect x="139.1" y="162.1" width="3.4" height="3.2" rx="0.7" fill="#ffc8c8" stroke="#ff2020" stroke-width="0.7"/>
<path d="M142.8,160.7h3.8M144.7,160.7V162.2M144.7,165.2V166.7M142.8,166.7h3.8" stroke="#303030" stroke-width="0.7" fill="none"/>
<rect x="143.0" y="162.1" width="3.4" height="3.2" rx="0.7" fill="#c8c8c8" stroke="#303030" stroke-width="0.7"/>
<path d="M144.7,158.7h3.8M146.6,158.7V163.2M146.6,166.2V170.7M144.7,170.7h3.8" stroke="#ff2020" stroke-width="0.7" fill="none"/>
<rect x="144.9" y="163.1" width="3.4" height="3.2" rx="0.7" fill="#ffc8c8" stroke="#ff2020" stroke-width="0.7"/>
<path d="M144.2,156.8h3.8M146.1,156.8V158.3M146.1,161.3V162.8M144.2,162.8h3.8" stroke="#303030" stroke-width="0.7" fill="none"/>
<rect x="144.4" y="158.2" width="3.4" height="3.2" rx="0.7" fill="#c8c8c8" stroke="#303030" stroke-width="0.7"/>
<path d="M145.2,165.6h3.8M147.1,165.6V168.1M147.1,171.1V173.6M145.2,173.6h3.8" stroke="#ff2020" stroke-width="0.7" fill="none"/>
<rect x="145.4" y="168.0" width="3.4" height="3.2" rx="0.7" fill="#ffc8c8" stroke="#ff2020" stroke-width="0.7"/>
<path d="M147.7,166.1h3.8M149.6,166.1V167.6M149.6,170.6V172.1M147.7,172.1h3.8" stroke="#303030" stroke-width="0.7" fill="none"/>
<rect x="147.9" y="167.5" width="3.4" height="3.2" rx="0.7" fill="#c8c8c8" stroke="#303030" stroke-width="0.7"/>
<path d="M149.6,167.5h3.8M151.5,167.5V169.0M151.5,172.0V173.5M149.6,173.5h3.8" stroke="#303030" stroke-width="0.7" fill="none"/>
<rect x="149.8" y="168.9" width="3.4" height="3.2" rx="0.7" fill="#c8c8c8" stroke="#303030" stroke-width="0.7"/>
<path d="M151.6,162.2h3.8M153.5,162.2V163.7M153.5,166.7V168.2M151.6,168.2h3.8" stroke="#303030" stroke-width="0.7" fill="none"/>
<rect x="151.8" y="163.6" width="3.4" height="3.2" rx="0.7" fill="#c8c8c8" stroke="#303030" stroke-width="0.7"/>
<path d="M151.6,171.9h3.8M153.5,171.9V174.4M153.5,177.4V179.9M151.6,179.9h3.8" stroke="#ff2020" stroke-width="0.7" fill="none"/>
<rect x="151.8" y="174.3" width="3.4" height="3.2" rx="0.7" fill="#ffc8c8" stroke="#ff2020" stroke-width="0.7"/>
<path d="M153.5,162.6h3.8M155.4,162.6V164.1M155.4,167.1V168.6M153.5,168.6h3.8" stroke="#303030" stroke-width="0.7" fill="none"/>
<rect x="153.7" y="164.0" width="3.4" height="3.2" rx="0.7" fill="#c8c8c8" stroke="#303030" stroke-width="0.7"/>
<path d="M156.9,154.3h3.8M158.8,154.3V157.3M158.8,160.3V163.3M156.9,163.3h3.8" stroke="#ff2020" stroke-width="0.7" fill="none"/>
<rect x="157.1" y="157.2" width="3.4" height="3.2" rx="0.7" fill="#ffc8c8" stroke="#ff2020" stroke-width="0.7"/>
<path d="M156.4,161.7h3.8M158.3,161.7V163.2M158.3,166.2V167.7M156.4,167.7h3.8" stroke="#303030" stroke-width="0.7" fill="none"/>
<rect x="156.6" y="163.1" width="3.4" height="3.2" rx="0.7" fill="#c8c8c8" stroke="#303030" stroke-width="0.7"/>
<path d="M158.4,162.6h3.8M160.3,162.6V165.1M160.3,168.1V170.6M158.4,170.6h3.8" stroke="#ff2020" stroke-width="0.7" fill="none"/>
<rect x="158.6" y="165.0" width="3.4" height="3.2" rx="0.7" fill="#ffc8c8" stroke="#ff2020" stroke-width="0.7"/>
<path d="M160.4,164.1h3.8M162.3,164.1V165.6M162.3,168.6V170.1M160.4,170.1h3.8" stroke="#303030" stroke-width="0.7" fill="none"/>
<rect x="160.6" y="165.5" width="3.4" height="3.2" rx="0.7" fill="#c8c8c8" stroke="#303030" stroke-width="0.7"/>
<path d="M162.3,169.5h3.8M164.2,169.5V171.0M164.2,174.0V175.5M162.3,175.5h3.8" stroke="#303030" stroke-width="0.7" fill="none"/>
<rect x="162.5" y="170.9" width="3.4" height="3.2" rx="0.7" fill="#c8c8c8" stroke="#303030" stroke-width="0.7"/>
<path d="M159.3,164.0h3.8M161.2,164.0V165.5M161.2,168.5V170.0M159.3,170.0h3.8" stroke="#303030" stroke-width="0.7" fill="none"/>
<rect x="159.5" y="165.4" width="3.4" height="3.2" rx="0.7" fill="#c8c8c8" stroke="#303030" stroke-width="0.7"/>
<path d="M161.1,166.4h3.8M163.0,166.4V167.9M163.0,170.9V172.4M161.1,172.4h3.8" stroke="#303030" stroke-width="0.7" fill="none"/>
<rect x="161.3" y="167.8" width="3.4" height="3.2" rx="0.7" fill="#c8c8c8" stroke="#303030" stroke-width="0.7"/>
<path d="M162.9,170.9h3.8M164.8,170.9V173.4M164.8,176.4V178.9M162.9,178.9h3.8" stroke="#ff2020" stroke-width="0.7" fill="none"/>
<rect x="163.1" y="173.3" width="3.4" height="3.2" rx="0.7" fill="#ffc8c8" stroke="#ff2020" stroke-width="0.7"/>
<path d="M163.5,168.8h3.8M165.4,168.8V170.3M165.4,173.3V174.8M163.5,174.8h3.8" stroke="#303030" stroke-width="0.7" fill="none"/>
<rect x="163.7" y="170.2" width="3.4" height="3.2" rx="0.7" fill="#c8c8c8" stroke="#303030" stroke-width="0.7"/>
<path d="M164.7,179.3h3.8M166.6,179.3V181.8M166.6,184.8V187.3M164.7,187.3h3.8" stroke="#ff2020" stroke-width="0.7" fill="none"/>
<rect x="164.9" y="181.7" width="3.4" height="3.2" rx="0.7" fill="#ffc8c8" stroke="#ff2020" stroke-width="0.7"/>
<path d="M171.3,172.3h3.8M173.2,172.3V175.8M173.2,178.8V182.3M171.3,182.3h3.8" stroke="#ff2020" stroke-width="0.7" fill="none"/>
<rect x="171.5" y="175.7" width="3.4" height="3.2" rx="0.7" fill="#ffc8c8" stroke="#ff2020" stroke-width="0.7"/>
<path d="M166.5,174.9h3.8M168.4,174.9V176.4M168.4,179.4V180.9M166.5,180.9h3.8" stroke="#303030" stroke-width="0.7" fill="none"/>
<rect x="166.7" y="176.3" width="3.4" height="3.2" rx="0.7" fill="#c8c8c8" stroke="#303030" stroke-width="0.7"/>
<path d="M168.9,178.5h3.8M170.8,178.5V180.0M170.8,183.0V184.5M168.9,184.5h3.8" stroke="#303030" stroke-width="0.7" fill="none"/>
<rect x="169.1" y="179.9" width="3.4" height="3.2" rx="0.7" fill="#c8c8c8" stroke="#303030" stroke-width="0.7"/>
<path d="M170.1,180.9h3.8M172.0,180.9V182.4M172.0,185.4V186.9M170.1,186.9h3.8" stroke="#303030" stroke-width="0.7" fill="none"/>
<rect x="170.3" y="182.3" width="3.4" height="3.2" rx="0.7" fill="#c8c8c8" stroke="#303030" stroke-width="0.7"/>
<path d="M171.9,182.7h3.8M173.8,182.7V184.2M173.8,187.2V188.7M171.9,188.7h3.8" stroke="#303030" stroke-width="0.7" fill="none"/>
<rect x="172.1" y="184.1" width="3.4" height="3.2" rx="0.7" fill="#c8c8c8" stroke="#303030" stroke-width="0.7"/>
<path d="M173.7,185.7h3.8M175.6,185.7V187.2M175.6,190.2V191.7M173.7,191.7h3.8" stroke="#303030" stroke-width="0.7" fill="none"/>
<rect x="173.9" y="187.1" width="3.4" height="3.2" rx="0.7" fill="#c8c8c8" stroke="#303030" stroke-width="0.7"/>
<path d="M175.5,188.1h3.8M177.4,188.1V189.6M177.4,192.6V194.1M175.5,194.1h3.8" stroke="#303030" stroke-width="0.7" fill="none"/>
<rect x="175.7" y="189.5" width="3.4" height="3.2" rx="0.7" fill="#c8c8c8" stroke="#303030" stroke-width="0.7"/>
<path d="M176.8,190.7h3.8M178.7,190.7V193.2M178.7,196.2V198.7M176.8,198.7h3.8" stroke="#ff2020" stroke-width="0.7" fill="none"/>
<rect x="177.0" y="193.1" width="3.4" height="3.2" rx="0.7" fill="#ffc8c8" stroke="#ff2020" stroke-width="0.7"/>
<path d="M179.2,194.7h3.8M181.1,194.7V196.2M181.1,199.2V200.7M179.2,200.7h3.8" stroke="#303030" stroke-width="0.7" fill="none"/>
<rect x="179.4" y="196.1" width="3.4" height="3.2" rx="0.7" fill="#c8c8c8" stroke="#303030" stroke-width="0.7"/>
<path d="M176.1,196.2h3.8M178.0,196.2V198.7M178.0,201.7V204.2M176.1,204.2h3.8" stroke="#ff2020" stroke-width="0.7" fill="none"/>
<rect x="176.3" y="198.6" width="3.4" height="3.2" rx="0.7" fill="#ffc8c8" stroke="#ff2020" stroke-width="0.7"/>
<path d="M177.7,199.2h3.8M179.6,199.2V203.7M179.6,206.7V211.2M177.7,211.2h3.8" stroke="#ff2020" stroke-width="0.7" fill="none"/>
<rect x="177.9" y="203.6" width="3.4" height="3.2" rx="0.7" fill="#ffc8c8" stroke="#ff2020" stroke-width="0.7"/>
<path d="M180.7,195.5h3.8M182.6,195.5V197.0M182.6,200.0V201.5M180.7,201.5h3.8" stroke="#303030" stroke-width="0.7" fill="none"/>
<rect x="180.9" y="196.9" width="3.4" height="3.2" rx="0.7" fill="#c8c8c8" stroke="#303030" stroke-width="0.7"/>
<path d="M183.2,201.8h3.8M185.1,201.8V203.3M185.1,206.3V207.8M183.2,207.8h3.8" stroke="#303030" stroke-width="0.7" fill="none"/>
<rect x="183.4" y="203.2" width="3.4" height="3.2" rx="0.7" fill="#c8c8c8" stroke="#303030" stroke-width="0.7"/>
<path d="M184.0,204.3h3.8M185.9,204.3V210.8M185.9,213.8V220.3M184.0,220.3h3.8" stroke="#ff2020" stroke-width="0.7" fill="none"/>
<rect x="184.2" y="210.7" width="3.4" height="3.2" rx="0.7" fill="#ffc8c8" stroke="#ff2020" stroke-width="0.7"/>
<path d="M184.9,192.0h3.8M186.8,192.0V194.5M186.8,197.5V200.0M184.9,200.0h3.8" stroke="#ff2020" stroke-width="0.7" fill="none"/>
<rect x="185.1" y="194.4" width="3.4" height="3.2" rx="0.7" fill="#ffc8c8" stroke="#ff2020" stroke-width="0.7"/>
<path d="M181.0,196.5h3.8M182.9,196.5V198.0M182.9,201.0V202.5M181.0,202.5h3.8" stroke="#303030" stroke-width="0.7" fill="none"/>
<rect x="181.2" y="197.9" width="3.4" height="3.2" rx="0.7" fill="#c8c8c8" stroke="#303030" stroke-width="0.7"/>
<path d="M184.0,190.7h3.8M185.9,190.7V193.2M185.9,196.2V198.7M184.0,198.7h3.8" stroke="#ff2020" stroke-width="0.7" fill="none"/>
<rect x="184.2" y="193.1" width="3.4" height="3.2" rx="0.7" fill="#ffc8c8" stroke="#ff2020" stroke-width="0.7"/>
<path d="M182.8,201.3h3.8M184.7,201.3V202.8M184.7,205.8V207.3M182.8,207.3h3.8" stroke="#303030" stroke-width="0.7" fill="none"/>
<rect x="183.0" y="202.7" width="3.4" height="3.2" rx="0.7" fill="#c8c8c8" stroke="#303030" stroke-width="0.7"/>
<path d="M185.8,194.1h3.8M187.7,194.1V195.6M187.7,198.6V200.1M185.8,200.1h3.8" stroke="#303030" stroke-width="0.7" fill="none"/>
<rect x="186.0" y="195.5" width="3.4" height="3.2" rx="0.7" fill="#c8c8c8" stroke="#303030" stroke-width="0.7"/>
<path d="M187.6,188.1h3.8M189.5,188.1V189.6M189.5,192.6V194.1M187.6,194.1h3.8" stroke="#303030" stroke-width="0.7" fill="none"/>
<rect x="187.8" y="189.5" width="3.4" height="3.2" rx="0.7" fill="#c8c8c8" stroke="#303030" stroke-width="0.7"/>
<path d="M188.6,197.6h3.8M190.5,197.6V199.1M190.5,202.1V203.6M188.6,203.6h3.8" stroke="#303030" stroke-width="0.7" fill="none"/>
<rect x="188.8" y="199.0" width="3.4" height="3.2" rx="0.7" fill="#c8c8c8" stroke="#303030" stroke-width="0.7"/>
<path d="M186.5,187.5h3.8M188.4,187.5V189.0M188.4,192.0V193.5M186.5,193.5h3.8" stroke="#303030" stroke-width="0.7" fill="none"/>
<rect x="186.7" y="188.9" width="3.4" height="3.2" rx="0.7" fill="#c8c8c8" stroke="#303030" stroke-width="0.7"/>
<path d="M184.6,189.9h3.8M186.5,189.9V192.4M186.5,195.4V197.9M184.6,197.9h3.8" stroke="#ff2020" stroke-width="0.7" fill="none"/>
<rect x="184.8" y="192.3" width="3.4" height="3.2" rx="0.7" fill="#ffc8c8" stroke="#ff2020" stroke-width="0.7"/>
<path d="M188.5,194.4h3.8M190.4,194.4V195.9M190.4,198.9V200.4M188.5,200.4h3.8" stroke="#303030" stroke-width="0.7" fill="none"/>
<rect x="188.7" y="195.8" width="3.4" height="3.2" rx="0.7" fill="#c8c8c8" stroke="#303030" stroke-width="0.7"/>
<path d="M189.4,185.7h3.8M191.3,185.7V187.2M191.3,190.2V191.7M189.4,191.7h3.8" stroke="#303030" stroke-width="0.7" fill="none"/>
<rect x="189.6" y="187.1" width="3.4" height="3.2" rx="0.7" fill="#c8c8c8" stroke="#303030" stroke-width="0.7"/>
<path d="M191.0,176.1h3.8M192.9,176.1V180.6M192.9,183.6V188.1M191.0,188.1h3.8" stroke="#ff2020" stroke-width="0.7" fill="none"/>
<rect x="191.2" y="180.5" width="3.4" height="3.2" rx="0.7" fill="#ffc8c8" stroke="#ff2020" stroke-width="0.7"/>
<path d="M192.4,182.1h3.8M194.3,182.1V183.6M194.3,186.6V188.1M192.4,188.1h3.8" stroke="#303030" stroke-width="0.7" fill="none"/>
<rect x="192.6" y="183.5" width="3.4" height="3.2" rx="0.7" fill="#c8c8c8" stroke="#303030" stroke-width="0.7"/>
<path d="M193.4,183.1h3.8M195.3,183.1V184.6M195.3,187.6V189.1M193.4,189.1h3.8" stroke="#303030" stroke-width="0.7" fill="none"/>
<rect x="193.6" y="184.5" width="3.4" height="3.2" rx="0.7" fill="#c8c8c8" stroke="#303030" stroke-width="0.7"/>
<path d="M197.8,181.6h3.8M199.7,181.6V184.1M199.7,187.1V189.6M197.8,189.6h3.8" stroke="#ff2020" stroke-width="0.7" fill="none"/>
<rect x="198.0" y="184.0" width="3.4" height="3.2" rx="0.7" fill="#ffc8c8" stroke="#ff2020" stroke-width="0.7"/>
<path d="M194.9,186.0h3.8M196.8,186.0V187.5M196.8,190.5V192.0M194.9,192.0h3.8" stroke="#303030" stroke-width="0.7" fill="none"/>
<rect x="195.1" y="187.4" width="3.4" height="3.2" rx="0.7" fill="#c8c8c8" stroke="#303030" stroke-width="0.7"/>
<path d="M199.8,177.6h3.8M201.7,177.6V179.1M201.7,182.1V183.6M199.8,183.6h3.8" stroke="#303030" stroke-width="0.7" fill="none"/>
<rect x="200.0" y="179.0" width="3.4" height="3.2" rx="0.7" fill="#c8c8c8" stroke="#303030" stroke-width="0.7"/>
<path d="M201.3,175.2h3.8M203.2,175.2V176.7M203.2,179.7V181.2M201.3,181.2h3.8" stroke="#303030" stroke-width="0.7" fill="none"/>
<rect x="201.5" y="176.6" width="3.4" height="3.2" rx="0.7" fill="#c8c8c8" stroke="#303030" stroke-width="0.7"/>
<path d="M202.3,172.7h3.8M204.2,172.7V174.2M204.2,177.2V178.7M202.3,178.7h3.8" stroke="#303030" stroke-width="0.7" fill="none"/>
<rect x="202.5" y="174.1" width="3.4" height="3.2" rx="0.7" fill="#c8c8c8" stroke="#303030" stroke-width="0.7"/>
<path d="M202.8,170.8h3.8M204.7,170.8V172.3M204.7,175.3V176.8M202.8,176.8h3.8" stroke="#303030" stroke-width="0.7" fill="none"/>
<rect x="203.0" y="172.2" width="3.4" height="3.2" rx="0.7" fill="#c8c8c8" stroke="#303030" stroke-width="0.7"/>
<path d="M140.6,164.8h3.8M142.5,164.8V166.3M142.5,169.3V170.8M140.6,170.8h3.8" stroke="#000" stroke-width="0.7" fill="none"/>
<circle cx="142.5" cy="167.8" r="1.35" fill="#000"/>
<path d="M141.6,161.3h3.8M143.5,161.3V162.8M143.5,165.8V167.3M141.6,167.3h3.8" stroke="#000" stroke-width="0.7" fill="none"/>
<circle cx="143.5" cy="164.3" r="1.35" fill="#000"/>
<path d="M136.9,160.9h3.8M138.8,160.9V162.4M138.8,165.4V166.9M136.9,166.9h3.8" stroke="#000" stroke-width="0.7" fill="none"/>
<circle cx="138.8" cy="163.9" r="1.35" fill="#000"/>
<path d="M148.2,163.4h3.8M150.1,163.4V164.9M150.1,167.9V169.4M148.2,169.4h3.8" stroke="#000" stroke-width="0.7" fill="none"/>
<circle cx="150.1" cy="166.4" r="1.35" fill="#000"/>
<path d="M160.8,169.7h3.8M162.7,169.7V171.2M162.7,174.2V175.7M160.8,175.7h3.8" stroke="#000" stroke-width="0.7" fill="none"/>
<circle cx="162.7" cy="172.7" r="1.35" fill="#000"/>
<path d="M163.3,173.4h3.8M165.2,173.4V174.9M165.2,177.9V179.4M163.3,179.4h3.8" stroke="#000" stroke-width="0.7" fill="none"/>
<circle cx="165.2" cy="176.4" r="1.35" fill="#000"/>
<path d="M167.1,177.2h3.8M169.0,177.2V178.7M169.0,181.7V183.2M167.1,183.2h3.8" stroke="#000" stroke-width="0.7" fill="none"/>
<circle cx="169.0" cy="180.2" r="1.35" fill="#000"/>
<path d="M169.6,179.7h3.8M171.5,179.7V181.2M171.5,184.2V185.7M169.6,185.7h3.8" stroke="#000" stroke-width="0.7" fill="none"/>
<circle cx="171.5" cy="182.7" r="1.35" fill="#000"/>
<path d="M172.1,183.5h3.8M174.0,183.5V185.0M174.0,188.0V189.5M172.1,189.5h3.8" stroke="#000" stroke-width="0.7" fill="none"/>
<circle cx="174.0" cy="186.5" r="1.35" fill="#000"/>
<path d="M174.6,186.0h3.8M176.5,186.0V187.5M176.5,190.5V192.0M174.6,192.0h3.8" stroke="#000" stroke-width="0.7" fill="none"/>
<circle cx="176.5" cy="189.0" r="1.35" fill="#000"/>
<path d="M177.1,192.3h3.8M179.0,192.3V193.8M179.0,196.8V198.3M177.1,198.3h3.8" stroke="#000" stroke-width="0.7" fill="none"/>
<circle cx="179.0" cy="195.3" r="1.35" fill="#000"/>
<path d="M182.1,194.8h3.8M184.0,194.8V196.3M184.0,199.3V200.8M182.1,200.8h3.8" stroke="#000" stroke-width="0.7" fill="none"/>
<circle cx="184.0" cy="197.8" r="1.35" fill="#000"/>
<path d="M185.9,191.0h3.8M187.8,191.0V192.5M187.8,195.5V197.0M185.9,197.0h3.8" stroke="#000" stroke-width="0.7" fill="none"/>
<circle cx="187.8" cy="194.0" r="1.35" fill="#000"/>
<path d="M188.5,187.2h3.8M190.4,187.2V188.7M190.4,191.7V193.2M188.5,193.2h3.8" stroke="#000" stroke-width="0.7" fill="none"/>
<circle cx="190.4" cy="190.2" r="1.35" fill="#000"/>
<path d="M193.5,184.7h3.8M195.4,184.7V186.2M195.4,189.2V190.7M193.5,190.7h3.8" stroke="#000" stroke-width="0.7" fill="none"/>
<circle cx="195.4" cy="187.7" r="1.35" fill="#000"/>
<path d="M197.3,182.2h3.8M199.2,182.2V183.7M199.2,186.7V188.2M197.3,188.2h3.8" stroke="#000" stroke-width="0.7" fill="none"/>
<circle cx="199.2" cy="185.2" r="1.35" fill="#000"/>
<path d="M201.0,174.7h3.8M202.9,174.7V176.2M202.9,179.2V180.7M201.0,180.7h3.8" stroke="#000" stroke-width="0.7" fill="none"/>
<circle cx="202.9" cy="177.7" r="1.35" fill="#000"/>
<path d="M138.1,159.3h3.8M140.0,159.3V161.8M140.0,164.8V167.3M138.1,167.3h3.8" stroke="#ff0000" stroke-width="0.7" fill="none"/>
<circle cx="140.0" cy="163.3" r="1.35" fill="#ff0000"/>
<path d="M144.1,157.0h3.8M146.0,157.0V162.5M146.0,165.5V171.0M144.1,171.0h3.8" stroke="#ff0000" stroke-width="0.7" fill="none"/>
<circle cx="146.0" cy="164.0" r="1.35" fill="#ff0000"/>
<path d="M145.4,163.5h3.8M147.3,163.5V166.0M147.3,169.0V171.5M145.4,171.5h3.8" stroke="#ff0000" stroke-width="0.7" fill="none"/>
<circle cx="147.3" cy="167.5" r="1.35" fill="#ff0000"/>
<path d="M133.6,170.0h3.8M135.5,170.0V171.5M135.5,174.5V176.0M133.6,176.0h3.8" stroke="#303030" stroke-width="0.7" fill="none"/>
<rect x="133.8" y="171.4" width="3.4" height="3.2" rx="0.7" fill="#c8c8c8" stroke="#303030" stroke-width="0.7"/>
<path d="M136.6,170.5h3.8M138.5,170.5V172.0M138.5,175.0V176.5M136.6,176.5h3.8" stroke="#303030" stroke-width="0.7" fill="none"/>
<rect x="136.8" y="171.9" width="3.4" height="3.2" rx="0.7" fill="#c8c8c8" stroke="#303030" stroke-width="0.7"/>
<path d="M139.6,170.0h3.8M141.5,170.0V171.5M141.5,174.5V176.0M139.6,176.0h3.8" stroke="#303030" stroke-width="0.7" fill="none"/>
<rect x="139.8" y="171.4" width="3.4" height="3.2" rx="0.7" fill="#c8c8c8" stroke="#303030" stroke-width="0.7"/>
<path d="M150.4,201.4h3.8M152.3,201.4V203.4M152.3,206.4V208.4M150.4,208.4h3.8" stroke="#000" stroke-width="0.7" fill="none"/>
<circle cx="152.3" cy="204.9" r="1.35" fill="#000"/>
<path d="M153.3,197.4h3.8M155.2,197.4V201.9M155.2,204.9V209.4M153.3,209.4h3.8" stroke="#ff0000" stroke-width="0.7" fill="none"/>
<circle cx="155.2" cy="203.4" r="1.35" fill="#ff0000"/>
<path d="M154.8,201.4h3.8M156.7,201.4V203.4M156.7,206.4V208.4M154.8,208.4h3.8" stroke="#000" stroke-width="0.7" fill="none"/>
<circle cx="156.7" cy="204.9" r="1.35" fill="#000"/>
<path d="M152.3,209.2h3.8M154.2,209.2V214.2M154.2,217.2V222.2M152.3,222.2h3.8" stroke="#ff0000" stroke-width="0.7" fill="none"/>
<circle cx="154.2" cy="215.7" r="1.35" fill="#ff0000"/>
<path d="M156.0,210.7h3.8M157.9,210.7V212.2M157.9,215.2V216.7M156.0,216.7h3.8" stroke="#000" stroke-width="0.7" fill="none"/>
<circle cx="157.9" cy="213.7" r="1.35" fill="#000"/>
<path d="M159.5,207.7h3.8M161.4,207.7V212.2M161.4,215.2V219.7M159.5,219.7h3.8" stroke="#ff0000" stroke-width="0.7" fill="none"/>
<circle cx="161.4" cy="213.7" r="1.35" fill="#ff0000"/>
<path d="M153.8,218.6h3.8M155.7,218.6V220.1M155.7,223.1V224.6M153.8,224.6h3.8" stroke="#000" stroke-width="0.7" fill="none"/>
<circle cx="155.7" cy="221.6" r="1.35" fill="#000"/>
<path d="M161.7,216.6h3.8M163.6,216.6V219.1M163.6,222.1V224.6M161.7,224.6h3.8" stroke="#000" stroke-width="0.7" fill="none"/>
<circle cx="163.6" cy="220.6" r="1.35" fill="#000"/>
<path d="M163.2,215.7h3.8M165.1,215.7V217.2M165.1,220.2V221.7M163.2,221.7h3.8" stroke="#000" stroke-width="0.7" fill="none"/>
<circle cx="165.1" cy="218.7" r="1.35" fill="#000"/>
<path d="M165.6,218.6h3.8M167.5,218.6V223.1M167.5,226.1V230.6M165.6,230.6h3.8" stroke="#ff0000" stroke-width="0.7" fill="none"/>
<circle cx="167.5" cy="224.6" r="1.35" fill="#ff0000"/>
<path d="M164.7,214.7h3.8M166.6,214.7V216.2M166.6,219.2V220.7M164.7,220.7h3.8" stroke="#000" stroke-width="0.7" fill="none"/>
<circle cx="166.6" cy="217.7" r="1.35" fill="#000"/>
<path d="M165.1,215.5h3.8M167.0,215.5V217.0M167.0,220.0V221.5M165.1,221.5h3.8" stroke="#000" stroke-width="0.7" fill="none"/>
<circle cx="167.0" cy="218.5" r="1.35" fill="#000"/>
<path d="M168.5,218.4h3.8M170.4,218.4V219.9M170.4,222.9V224.4M168.5,224.4h3.8" stroke="#000" stroke-width="0.7" fill="none"/>
<circle cx="170.4" cy="221.4" r="1.35" fill="#000"/>
<path d="M171.4,213.8h3.8M173.3,213.8V215.3M173.3,218.3V219.8M171.4,219.8h3.8" stroke="#000" stroke-width="0.7" fill="none"/>
<circle cx="173.3" cy="216.8" r="1.35" fill="#000"/>
<path d="M174.2,226.9h3.8M176.1,226.9V228.4M176.1,231.4V232.9M174.2,232.9h3.8" stroke="#000" stroke-width="0.7" fill="none"/>
<circle cx="176.1" cy="229.9" r="1.35" fill="#000"/>
<path d="M175.3,229.2h3.8M177.2,229.2V230.7M177.2,233.7V235.2M175.3,235.2h3.8" stroke="#000" stroke-width="0.7" fill="none"/>
<circle cx="177.2" cy="232.2" r="1.35" fill="#000"/>
<path d="M176.5,231.5h3.8M178.4,231.5V233.0M178.4,236.0V237.5M176.5,237.5h3.8" stroke="#000" stroke-width="0.7" fill="none"/>
<circle cx="178.4" cy="234.5" r="1.35" fill="#000"/>
<path d="M173.1,228.8h3.8M175.0,228.8V231.8M175.0,234.8V237.8M173.1,237.8h3.8" stroke="#ff0000" stroke-width="0.7" fill="none"/>
<circle cx="175.0" cy="233.3" r="1.35" fill="#ff0000"/>
<path d="M183.3,240.6h3.8M185.2,240.6V242.1M185.2,245.1V246.6M183.3,246.6h3.8" stroke="#000" stroke-width="0.7" fill="none"/>
<circle cx="185.2" cy="243.6" r="1.35" fill="#000"/>
<path d="M185.6,231.3h3.8M187.5,231.3V239.3M187.5,242.3V250.3M185.6,250.3h3.8" stroke="#ff0000" stroke-width="0.7" fill="none"/>
<circle cx="187.5" cy="240.8" r="1.35" fill="#ff0000"/>
<path d="M185.6,239.2h3.8M187.5,239.2V246.7M187.5,249.7V257.2M185.6,257.2h3.8" stroke="#ff0000" stroke-width="0.7" fill="none"/>
<circle cx="187.5" cy="248.2" r="1.35" fill="#ff0000"/>
<path d="M186.7,241.2h3.8M188.6,241.2V242.7M188.6,245.7V247.2M186.7,247.2h3.8" stroke="#000" stroke-width="0.7" fill="none"/>
<circle cx="188.6" cy="244.2" r="1.35" fill="#000"/>
<path d="M178.8,243.9h3.8M180.7,243.9V248.9M180.7,251.9V256.9M178.8,256.9h3.8" stroke="#ff0000" stroke-width="0.7" fill="none"/>
<circle cx="180.7" cy="250.4" r="1.35" fill="#ff0000"/>
<path d="M121.9,255.6h3.8M123.8,255.6V262.0M123.8,265.0V271.4M121.9,271.4h3.8" stroke="#303030" stroke-width="0.7" fill="none"/>
<rect x="122.1" y="261.9" width="3.4" height="3.2" rx="0.7" fill="#c8c8c8" stroke="#303030" stroke-width="0.7"/>
<path d="M128.5,257.3h3.8M130.4,257.3V260.8M130.4,263.8V267.3M128.5,267.3h3.8" stroke="#303030" stroke-width="0.7" fill="none"/>
<rect x="128.7" y="260.7" width="3.4" height="3.2" rx="0.7" fill="#c8c8c8" stroke="#303030" stroke-width="0.7"/>
<path d="M126.5,261.7h3.8M128.4,261.7V266.2M128.4,269.2V273.7M126.5,273.7h3.8" stroke="#303030" stroke-width="0.7" fill="none"/>
<rect x="126.7" y="266.1" width="3.4" height="3.2" rx="0.7" fill="#c8c8c8" stroke="#303030" stroke-width="0.7"/>
<path d="M143.1,275.0h3.8M145.0,275.0V281.5M145.0,284.5V291.0M143.1,291.0h3.8" stroke="#303030" stroke-width="0.7" fill="none"/>
<rect x="143.3" y="281.4" width="3.4" height="3.2" rx="0.7" fill="#c8c8c8" stroke="#303030" stroke-width="0.7"/>
<path d="M153.4,265.2h3.8M155.3,265.2V269.7M155.3,272.7V277.2M153.4,277.2h3.8" stroke="#303030" stroke-width="0.7" fill="none"/>
<rect x="153.6" y="269.6" width="3.4" height="3.2" rx="0.7" fill="#c8c8c8" stroke="#303030" stroke-width="0.7"/>
<path d="M73.5,311.0h3.8M75.4,311.0V313.5M75.4,316.5V319.0M73.5,319.0h3.8" stroke="#ff4cff" stroke-width="0.7" fill="none"/>
<rect x="73.7" y="313.4" width="3.4" height="3.2" rx="0.7" fill="#ffc8ff" stroke="#ff4cff" stroke-width="0.7"/>
<path d="M74.8,312.7h3.8M76.7,312.7V315.2M76.7,318.2V320.7M74.8,320.7h3.8" stroke="#ff4cff" stroke-width="0.7" fill="none"/>
<rect x="75.0" y="315.1" width="3.4" height="3.2" rx="0.7" fill="#ffc8ff" stroke="#ff4cff" stroke-width="0.7"/>
<path d="M75.6,310.6h3.8M77.5,310.6V313.1M77.5,316.1V318.6M75.6,318.6h3.8" stroke="#ff4cff" stroke-width="0.7" fill="none"/>
<rect x="75.8" y="313.0" width="3.4" height="3.2" rx="0.7" fill="#ffc8ff" stroke="#ff4cff" stroke-width="0.7"/>
<path d="M74.0,314.4h3.8M75.9,314.4V316.9M75.9,319.9V322.4M74.0,322.4h3.8" stroke="#ff4cff" stroke-width="0.7" fill="none"/>
<rect x="74.2" y="316.8" width="3.4" height="3.2" rx="0.7" fill="#ffc8ff" stroke="#ff4cff" stroke-width="0.7"/>
<path d="M76.9,314.0h3.8M78.8,314.0V316.5M78.8,319.5V322.0M76.9,322.0h3.8" stroke="#ff4cff" stroke-width="0.7" fill="none"/>
<rect x="77.1" y="316.4" width="3.4" height="3.2" rx="0.7" fill="#ffc8ff" stroke="#ff4cff" stroke-width="0.7"/>
<path d="M78.6,316.9h3.8M80.5,316.9V319.4M80.5,322.4V324.9M78.6,324.9h3.8" stroke="#ff4cff" stroke-width="0.7" fill="none"/>
<rect x="78.8" y="319.3" width="3.4" height="3.2" rx="0.7" fill="#ffc8ff" stroke="#ff4cff" stroke-width="0.7"/>
<path d="M79.8,318.6h3.8M81.7,318.6V321.1M81.7,324.1V326.6M79.8,326.6h3.8" stroke="#ff4cff" stroke-width="0.7" fill="none"/>
<rect x="80.0" y="321.0" width="3.4" height="3.2" rx="0.7" fill="#ffc8ff" stroke="#ff4cff" stroke-width="0.7"/>
<path d="M81.5,317.7h3.8M83.4,317.7V320.2M83.4,323.2V325.7M81.5,325.7h3.8" stroke="#ff4cff" stroke-width="0.7" fill="none"/>
<rect x="81.7" y="320.1" width="3.4" height="3.2" rx="0.7" fill="#ffc8ff" stroke="#ff4cff" stroke-width="0.7"/>
<path d="M82.8,321.5h3.8M84.7,321.5V324.0M84.7,327.0V329.5M82.8,329.5h3.8" stroke="#ff4cff" stroke-width="0.7" fill="none"/>
<rect x="83.0" y="323.9" width="3.4" height="3.2" rx="0.7" fill="#ffc8ff" stroke="#ff4cff" stroke-width="0.7"/>
<path d="M84.0,323.6h3.8M85.9,323.6V326.1M85.9,329.1V331.6M84.0,331.6h3.8" stroke="#ff4cff" stroke-width="0.7" fill="none"/>
<rect x="84.2" y="326.0" width="3.4" height="3.2" rx="0.7" fill="#ffc8ff" stroke="#ff4cff" stroke-width="0.7"/>
<path d="M85.3,320.2h3.8M87.2,320.2V322.7M87.2,325.7V328.2M85.3,328.2h3.8" stroke="#ff4cff" stroke-width="0.7" fill="none"/>
<rect x="85.5" y="322.6" width="3.4" height="3.2" rx="0.7" fill="#ffc8ff" stroke="#ff4cff" stroke-width="0.7"/>
<path d="M87.0,322.8h3.8M88.9,322.8V325.3M88.9,328.3V330.8M87.0,330.8h3.8" stroke="#ff4cff" stroke-width="0.7" fill="none"/>
<rect x="87.2" y="325.2" width="3.4" height="3.2" rx="0.7" fill="#ffc8ff" stroke="#ff4cff" stroke-width="0.7"/>
<path d="M88.2,325.3h3.8M90.1,325.3V327.8M90.1,330.8V333.3M88.2,333.3h3.8" stroke="#ff4cff" stroke-width="0.7" fill="none"/>
<rect x="88.4" y="327.7" width="3.4" height="3.2" rx="0.7" fill="#ffc8ff" stroke="#ff4cff" stroke-width="0.7"/>
<path d="M89.5,328.6h3.8M91.4,328.6V331.1M91.4,334.1V336.6M89.5,336.6h3.8" stroke="#ff4cff" stroke-width="0.7" fill="none"/>
<rect x="89.7" y="331.0" width="3.4" height="3.2" rx="0.7" fill="#ffc8ff" stroke="#ff4cff" stroke-width="0.7"/>
<path d="M90.3,332.0h3.8M92.2,332.0V334.5M92.2,337.5V340.0M90.3,340.0h3.8" stroke="#ff4cff" stroke-width="0.7" fill="none"/>
<rect x="90.5" y="334.4" width="3.4" height="3.2" rx="0.7" fill="#ffc8ff" stroke="#ff4cff" stroke-width="0.7"/>
<path d="M91.6,333.7h3.8M93.5,333.7V336.2M93.5,339.2V341.7M91.6,341.7h3.8" stroke="#ff4cff" stroke-width="0.7" fill="none"/>
<rect x="91.8" y="336.1" width="3.4" height="3.2" rx="0.7" fill="#ffc8ff" stroke="#ff4cff" stroke-width="0.7"/>
<path d="M92.8,336.2h3.8M94.7,336.2V338.7M94.7,341.7V344.2M92.8,344.2h3.8" stroke="#ff4cff" stroke-width="0.7" fill="none"/>
<rect x="93.0" y="338.6" width="3.4" height="3.2" rx="0.7" fill="#ffc8ff" stroke="#ff4cff" stroke-width="0.7"/>
<path d="M93.7,338.7h3.8M95.6,338.7V341.2M95.6,344.2V346.7M93.7,346.7h3.8" stroke="#ff4cff" stroke-width="0.7" fill="none"/>
<rect x="93.9" y="341.1" width="3.4" height="3.2" rx="0.7" fill="#ffc8ff" stroke="#ff4cff" stroke-width="0.7"/>
<path d="M94.2,340.6h3.8M96.1,340.6V343.1M96.1,346.1V348.6M94.2,348.6h3.8" stroke="#ff4cff" stroke-width="0.7" fill="none"/>
<rect x="94.4" y="343.0" width="3.4" height="3.2" rx="0.7" fill="#ffc8ff" stroke="#ff4cff" stroke-width="0.7"/>
<path d="M96.8,344.1h3.8M98.7,344.1V346.6M98.7,349.6V352.1M96.8,352.1h3.8" stroke="#ff4cff" stroke-width="0.7" fill="none"/>
<rect x="97.0" y="346.5" width="3.4" height="3.2" rx="0.7" fill="#ffc8ff" stroke="#ff4cff" stroke-width="0.7"/>
<path d="M101.2,346.2h3.8M103.1,346.2V349.7M103.1,352.7V356.2M101.2,356.2h3.8" stroke="#ff4cff" stroke-width="0.7" fill="none"/>
<rect x="101.4" y="349.6" width="3.4" height="3.2" rx="0.7" fill="#ffc8ff" stroke="#ff4cff" stroke-width="0.7"/>
<path d="M99.0,354.9h3.8M100.9,354.9V358.4M100.9,361.4V364.9M99.0,364.9h3.8" stroke="#ff4cff" stroke-width="0.7" fill="none"/>
<rect x="99.2" y="358.3" width="3.4" height="3.2" rx="0.7" fill="#ffc8ff" stroke="#ff4cff" stroke-width="0.7"/>
<path d="M103.8,357.1h3.8M105.7,357.1V360.6M105.7,363.6V367.1M103.8,367.1h3.8" stroke="#ff4cff" stroke-width="0.7" fill="none"/>
<rect x="104.0" y="360.5" width="3.4" height="3.2" rx="0.7" fill="#ffc8ff" stroke="#ff4cff" stroke-width="0.7"/>
<path d="M106.0,354.2h3.8M107.9,354.2V356.7M107.9,359.7V362.2M106.0,362.2h3.8" stroke="#ff4cff" stroke-width="0.7" fill="none"/>
<rect x="106.2" y="356.6" width="3.4" height="3.2" rx="0.7" fill="#ffc8ff" stroke="#ff4cff" stroke-width="0.7"/>
<path d="M108.2,365.1h3.8M110.1,365.1V367.6M110.1,370.6V373.1M108.2,373.1h3.8" stroke="#ff4cff" stroke-width="0.7" fill="none"/>
<rect x="108.4" y="367.5" width="3.4" height="3.2" rx="0.7" fill="#ffc8ff" stroke="#ff4cff" stroke-width="0.7"/>
<path d="M110.4,348.4h3.8M112.3,348.4V351.9M112.3,354.9V358.4M110.4,358.4h3.8" stroke="#ff4cff" stroke-width="0.7" fill="none"/>
<rect x="110.6" y="351.8" width="3.4" height="3.2" rx="0.7" fill="#ffc8ff" stroke="#ff4cff" stroke-width="0.7"/>
<path d="M112.6,348.4h3.8M114.5,348.4V351.9M114.5,354.9V358.4M112.6,358.4h3.8" stroke="#ff4cff" stroke-width="0.7" fill="none"/>
<rect x="112.8" y="351.8" width="3.4" height="3.2" rx="0.7" fill="#ffc8ff" stroke="#ff4cff" stroke-width="0.7"/>
<path d="M115.5,336.4h3.8M117.4,336.4V338.9M117.4,341.9V344.4M115.5,344.4h3.8" stroke="#ff4cff" stroke-width="0.7" fill="none"/>
<rect x="115.7" y="338.8" width="3.4" height="3.2" rx="0.7" fill="#ffc8ff" stroke="#ff4cff" stroke-width="0.7"/>
<path d="M117.9,332.8h3.8M119.8,332.8V335.3M119.8,338.3V340.8M117.9,340.8h3.8" stroke="#ff4cff" stroke-width="0.7" fill="none"/>
<rect x="118.1" y="335.2" width="3.4" height="3.2" rx="0.7" fill="#ffc8ff" stroke="#ff4cff" stroke-width="0.7"/>
<path d="M120.3,329.2h3.8M122.2,329.2V331.7M122.2,334.7V337.2M120.3,337.2h3.8" stroke="#ff4cff" stroke-width="0.7" fill="none"/>
<rect x="120.5" y="331.6" width="3.4" height="3.2" rx="0.7" fill="#ffc8ff" stroke="#ff4cff" stroke-width="0.7"/>
<path d="M121.5,326.2h3.8M123.4,326.2V328.7M123.4,331.7V334.2M121.5,334.2h3.8" stroke="#ff4cff" stroke-width="0.7" fill="none"/>
<rect x="121.7" y="328.6" width="3.4" height="3.2" rx="0.7" fill="#ffc8ff" stroke="#ff4cff" stroke-width="0.7"/>
<path d="M123.3,317.8h3.8M125.2,317.8V320.3M125.2,323.3V325.8M123.3,325.8h3.8" stroke="#ff4cff" stroke-width="0.7" fill="none"/>
<rect x="123.5" y="320.2" width="3.4" height="3.2" rx="0.7" fill="#ffc8ff" stroke="#ff4cff" stroke-width="0.7"/>
<path d="M124.5,316.0h3.8M126.4,316.0V318.5M126.4,321.5V324.0M124.5,324.0h3.8" stroke="#ff4cff" stroke-width="0.7" fill="none"/>
<rect x="124.7" y="318.4" width="3.4" height="3.2" rx="0.7" fill="#ffc8ff" stroke="#ff4cff" stroke-width="0.7"/>
<path d="M126.3,319.6h3.8M128.2,319.6V322.1M128.2,325.1V327.6M126.3,327.6h3.8" stroke="#ff4cff" stroke-width="0.7" fill="none"/>
<rect x="126.5" y="322.0" width="3.4" height="3.2" rx="0.7" fill="#ffc8ff" stroke="#ff4cff" stroke-width="0.7"/>
<path d="M128.1,313.6h3.8M130.0,313.6V316.1M130.0,319.1V321.6M128.1,321.6h3.8" stroke="#ff4cff" stroke-width="0.7" fill="none"/>
<rect x="128.3" y="316.0" width="3.4" height="3.2" rx="0.7" fill="#ffc8ff" stroke="#ff4cff" stroke-width="0.7"/>
<path d="M129.9,312.4h3.8M131.8,312.4V314.9M131.8,317.9V320.4M129.9,320.4h3.8" stroke="#ff4cff" stroke-width="0.7" fill="none"/>
<rect x="130.1" y="314.8" width="3.4" height="3.2" rx="0.7" fill="#ffc8ff" stroke="#ff4cff" stroke-width="0.7"/>
<path d="M132.3,311.8h3.8M134.2,311.8V314.3M134.2,317.3V319.8M132.3,319.8h3.8" stroke="#ff4cff" stroke-width="0.7" fill="none"/>
<rect x="132.5" y="314.2" width="3.4" height="3.2" rx="0.7" fill="#ffc8ff" stroke="#ff4cff" stroke-width="0.7"/>
<path d="M134.1,315.4h3.8M136.0,315.4V317.9M136.0,320.9V323.4M134.1,323.4h3.8" stroke="#ff4cff" stroke-width="0.7" fill="none"/>
<rect x="134.3" y="317.8" width="3.4" height="3.2" rx="0.7" fill="#ffc8ff" stroke="#ff4cff" stroke-width="0.7"/>
<path d="M135.9,317.2h3.8M137.8,317.2V319.7M137.8,322.7V325.2M135.9,325.2h3.8" stroke="#ff4cff" stroke-width="0.7" fill="none"/>
<rect x="136.1" y="319.6" width="3.4" height="3.2" rx="0.7" fill="#ffc8ff" stroke="#ff4cff" stroke-width="0.7"/>
<path d="M137.7,319.6h3.8M139.6,319.6V322.1M139.6,325.1V327.6M137.7,327.6h3.8" stroke="#ff4cff" stroke-width="0.7" fill="none"/>
<rect x="137.9" y="322.0" width="3.4" height="3.2" rx="0.7" fill="#ffc8ff" stroke="#ff4cff" stroke-width="0.7"/>
<path d="M140.1,311.8h3.8M142.0,311.8V314.3M142.0,317.3V319.8M140.1,319.8h3.8" stroke="#ff4cff" stroke-width="0.7" fill="none"/>
<rect x="140.3" y="314.2" width="3.4" height="3.2" rx="0.7" fill="#ffc8ff" stroke="#ff4cff" stroke-width="0.7"/>
<path d="M141.9,313.0h3.8M143.8,313.0V315.5M143.8,318.5V321.0M141.9,321.0h3.8" stroke="#ff4cff" stroke-width="0.7" fill="none"/>
<rect x="142.1" y="315.4" width="3.4" height="3.2" rx="0.7" fill="#ffc8ff" stroke="#ff4cff" stroke-width="0.7"/>
<path d="M146.1,314.2h3.8M148.0,314.2V316.7M148.0,319.7V322.2M146.1,322.2h3.8" stroke="#ff4cff" stroke-width="0.7" fill="none"/>
<rect x="146.3" y="316.6" width="3.4" height="3.2" rx="0.7" fill="#ffc8ff" stroke="#ff4cff" stroke-width="0.7"/>
<path d="M147.9,316.6h3.8M149.8,316.6V319.1M149.8,322.1V324.6M147.9,324.6h3.8" stroke="#ff4cff" stroke-width="0.7" fill="none"/>
<rect x="148.1" y="319.0" width="3.4" height="3.2" rx="0.7" fill="#ffc8ff" stroke="#ff4cff" stroke-width="0.7"/>
<path d="M150.3,311.2h3.8M152.2,311.2V313.7M152.2,316.7V319.2M150.3,319.2h3.8" stroke="#ff4cff" stroke-width="0.7" fill="none"/>
<rect x="150.5" y="313.6" width="3.4" height="3.2" rx="0.7" fill="#ffc8ff" stroke="#ff4cff" stroke-width="0.7"/>
<path d="M151.3,309.4h3.8M153.2,309.4V311.9M153.2,314.9V317.4M151.3,317.4h3.8" stroke="#ff4cff" stroke-width="0.7" fill="none"/>
<rect x="151.5" y="311.8" width="3.4" height="3.2" rx="0.7" fill="#ffc8ff" stroke="#ff4cff" stroke-width="0.7"/>
<path d="M74.0,351.2h3.8M75.9,351.2V353.7M75.9,356.7V359.2M74.0,359.2h3.8" stroke="#ff4cff" stroke-width="0.7" fill="none"/>
<rect x="74.2" y="353.6" width="3.4" height="3.2" rx="0.7" fill="#ffc8ff" stroke="#ff4cff" stroke-width="0.7"/>
<path d="M75.5,354.1h3.8M77.4,354.1V356.6M77.4,359.6V362.1M75.5,362.1h3.8" stroke="#ff4cff" stroke-width="0.7" fill="none"/>
<rect x="75.7" y="356.5" width="3.4" height="3.2" rx="0.7" fill="#ffc8ff" stroke="#ff4cff" stroke-width="0.7"/>
<path d="M78.0,356.1h3.8M79.9,356.1V358.6M79.9,361.6V364.1M78.0,364.1h3.8" stroke="#ff4cff" stroke-width="0.7" fill="none"/>
<rect x="78.2" y="358.5" width="3.4" height="3.2" rx="0.7" fill="#ffc8ff" stroke="#ff4cff" stroke-width="0.7"/>
<path d="M79.9,358.1h3.8M81.8,358.1V360.6M81.8,363.6V366.1M79.9,366.1h3.8" stroke="#ff4cff" stroke-width="0.7" fill="none"/>
<rect x="80.1" y="360.5" width="3.4" height="3.2" rx="0.7" fill="#ffc8ff" stroke="#ff4cff" stroke-width="0.7"/>
<path d="M81.9,360.0h3.8M83.8,360.0V362.5M83.8,365.5V368.0M81.9,368.0h3.8" stroke="#ff4cff" stroke-width="0.7" fill="none"/>
<rect x="82.1" y="362.4" width="3.4" height="3.2" rx="0.7" fill="#ffc8ff" stroke="#ff4cff" stroke-width="0.7"/>
<path d="M83.9,361.5h3.8M85.8,361.5V364.0M85.8,367.0V369.5M83.9,369.5h3.8" stroke="#ff4cff" stroke-width="0.7" fill="none"/>
<rect x="84.1" y="363.9" width="3.4" height="3.2" rx="0.7" fill="#ffc8ff" stroke="#ff4cff" stroke-width="0.7"/>
<path d="M85.4,363.5h3.8M87.3,363.5V366.0M87.3,369.0V371.5M85.4,371.5h3.8" stroke="#ff4cff" stroke-width="0.7" fill="none"/>
<rect x="85.6" y="365.9" width="3.4" height="3.2" rx="0.7" fill="#ffc8ff" stroke="#ff4cff" stroke-width="0.7"/>
<path d="M87.3,365.5h3.8M89.2,365.5V368.0M89.2,371.0V373.5M87.3,373.5h3.8" stroke="#ff4cff" stroke-width="0.7" fill="none"/>
<rect x="87.5" y="367.9" width="3.4" height="3.2" rx="0.7" fill="#ffc8ff" stroke="#ff4cff" stroke-width="0.7"/>
<path d="M88.8,367.9h3.8M90.7,367.9V370.4M90.7,373.4V375.9M88.8,375.9h3.8" stroke="#ff4cff" stroke-width="0.7" fill="none"/>
<rect x="89.0" y="370.3" width="3.4" height="3.2" rx="0.7" fill="#ffc8ff" stroke="#ff4cff" stroke-width="0.7"/>
<path d="M90.3,370.4h3.8M92.2,370.4V372.9M92.2,375.9V378.4M90.3,378.4h3.8" stroke="#ff4cff" stroke-width="0.7" fill="none"/>
<rect x="90.5" y="372.8" width="3.4" height="3.2" rx="0.7" fill="#ffc8ff" stroke="#ff4cff" stroke-width="0.7"/>
<path d="M92.3,372.9h3.8M94.2,372.9V375.4M94.2,378.4V380.9M92.3,380.9h3.8" stroke="#ff4cff" stroke-width="0.7" fill="none"/>
<rect x="92.5" y="375.3" width="3.4" height="3.2" rx="0.7" fill="#ffc8ff" stroke="#ff4cff" stroke-width="0.7"/>
<path d="M94.2,375.8h3.8M96.1,375.8V378.3M96.1,381.3V383.8M94.2,383.8h3.8" stroke="#ff4cff" stroke-width="0.7" fill="none"/>
<rect x="94.4" y="378.2" width="3.4" height="3.2" rx="0.7" fill="#ffc8ff" stroke="#ff4cff" stroke-width="0.7"/>
<path d="M95.7,377.8h3.8M97.6,377.8V380.3M97.6,383.3V385.8M95.7,385.8h3.8" stroke="#ff4cff" stroke-width="0.7" fill="none"/>
<rect x="95.9" y="380.2" width="3.4" height="3.2" rx="0.7" fill="#ffc8ff" stroke="#ff4cff" stroke-width="0.7"/>
<path d="M97.7,381.2h3.8M99.6,381.2V383.7M99.6,386.7V389.2M97.7,389.2h3.8" stroke="#ff4cff" stroke-width="0.7" fill="none"/>
<rect x="97.9" y="383.6" width="3.4" height="3.2" rx="0.7" fill="#ffc8ff" stroke="#ff4cff" stroke-width="0.7"/>
<path d="M99.7,381.5h3.8M101.6,381.5V384.0M101.6,387.0V389.5M99.7,389.5h3.8" stroke="#ff4cff" stroke-width="0.7" fill="none"/>
<rect x="99.9" y="383.9" width="3.4" height="3.2" rx="0.7" fill="#ffc8ff" stroke="#ff4cff" stroke-width="0.7"/>
<path d="M101.6,378.6h3.8M103.5,378.6V380.1M103.5,383.1V384.6M101.6,384.6h3.8" stroke="#ff4cff" stroke-width="0.7" fill="none"/>
<rect x="101.8" y="380.0" width="3.4" height="3.2" rx="0.7" fill="#ffc8ff" stroke="#ff4cff" stroke-width="0.7"/>
<path d="M99.0,386.1h3.8M100.9,386.1V389.1M100.9,392.1V395.1M99.0,395.1h3.8" stroke="#ff4cff" stroke-width="0.7" fill="none"/>
<rect x="99.2" y="389.0" width="3.4" height="3.2" rx="0.7" fill="#ffc8ff" stroke="#ff4cff" stroke-width="0.7"/>
<path d="M103.4,385.7h3.8M105.3,385.7V388.2M105.3,391.2V393.7M103.4,393.7h3.8" stroke="#ff4cff" stroke-width="0.7" fill="none"/>
<rect x="103.6" y="388.1" width="3.4" height="3.2" rx="0.7" fill="#ffc8ff" stroke="#ff4cff" stroke-width="0.7"/>
<path d="M103.9,388.1h3.8M105.8,388.1V391.6M105.8,394.6V398.1M103.9,398.1h3.8" stroke="#ff4cff" stroke-width="0.7" fill="none"/>
<rect x="104.1" y="391.5" width="3.4" height="3.2" rx="0.7" fill="#ffc8ff" stroke="#ff4cff" stroke-width="0.7"/>
<path d="M106.9,389.6h3.8M108.8,389.6V392.1M108.8,395.1V397.6M106.9,397.6h3.8" stroke="#ff4cff" stroke-width="0.7" fill="none"/>
<rect x="107.1" y="392.0" width="3.4" height="3.2" rx="0.7" fill="#ffc8ff" stroke="#ff4cff" stroke-width="0.7"/>
<path d="M108.3,392.0h3.8M110.2,392.0V396.5M110.2,399.5V404.0M108.3,404.0h3.8" stroke="#ff4cff" stroke-width="0.7" fill="none"/>
<rect x="108.5" y="396.4" width="3.4" height="3.2" rx="0.7" fill="#ffc8ff" stroke="#ff4cff" stroke-width="0.7"/>
<path d="M105.9,380.7h3.8M107.8,380.7V383.2M107.8,386.2V388.7M105.9,388.7h3.8" stroke="#ff4cff" stroke-width="0.7" fill="none"/>
<rect x="106.1" y="383.1" width="3.4" height="3.2" rx="0.7" fill="#ffc8ff" stroke="#ff4cff" stroke-width="0.7"/>
<path d="M107.8,362.0h3.8M109.7,362.0V364.5M109.7,367.5V370.0M107.8,370.0h3.8" stroke="#ff4cff" stroke-width="0.7" fill="none"/>
<rect x="108.0" y="364.4" width="3.4" height="3.2" rx="0.7" fill="#ffc8ff" stroke="#ff4cff" stroke-width="0.7"/>
<path d="M111.3,382.2h3.8M113.2,382.2V385.7M113.2,388.7V392.2M111.3,392.2h3.8" stroke="#ff4cff" stroke-width="0.7" fill="none"/>
<rect x="111.5" y="385.6" width="3.4" height="3.2" rx="0.7" fill="#ffc8ff" stroke="#ff4cff" stroke-width="0.7"/>
<path d="M113.3,380.7h3.8M115.2,380.7V384.2M115.2,387.2V390.7M113.3,390.7h3.8" stroke="#ff4cff" stroke-width="0.7" fill="none"/>
<rect x="113.5" y="384.1" width="3.4" height="3.2" rx="0.7" fill="#ffc8ff" stroke="#ff4cff" stroke-width="0.7"/>
<path d="M114.7,372.9h3.8M116.6,372.9V375.4M116.6,378.4V380.9M114.7,380.9h3.8" stroke="#ff4cff" stroke-width="0.7" fill="none"/>
<rect x="114.9" y="375.3" width="3.4" height="3.2" rx="0.7" fill="#ffc8ff" stroke="#ff4cff" stroke-width="0.7"/>
<path d="M116.7,370.4h3.8M118.6,370.4V372.9M118.6,375.9V378.4M116.7,378.4h3.8" stroke="#ff4cff" stroke-width="0.7" fill="none"/>
<rect x="116.9" y="372.8" width="3.4" height="3.2" rx="0.7" fill="#ffc8ff" stroke="#ff4cff" stroke-width="0.7"/>
<path d="M118.2,369.0h3.8M120.1,369.0V371.5M120.1,374.5V377.0M118.2,377.0h3.8" stroke="#ff4cff" stroke-width="0.7" fill="none"/>
<rect x="118.4" y="371.4" width="3.4" height="3.2" rx="0.7" fill="#ffc8ff" stroke="#ff4cff" stroke-width="0.7"/>
<path d="M119.6,367.5h3.8M121.5,367.5V370.0M121.5,373.0V375.5M119.6,375.5h3.8" stroke="#ff4cff" stroke-width="0.7" fill="none"/>
<rect x="119.8" y="369.9" width="3.4" height="3.2" rx="0.7" fill="#ffc8ff" stroke="#ff4cff" stroke-width="0.7"/>
<path d="M114.4,371.2h3.8M116.3,371.2V373.7M116.3,376.7V379.2M114.4,379.2h3.8" stroke="#ff4cff" stroke-width="0.7" fill="none"/>
<rect x="114.6" y="373.6" width="3.4" height="3.2" rx="0.7" fill="#ffc8ff" stroke="#ff4cff" stroke-width="0.7"/>
<path d="M116.2,369.3h3.8M118.1,369.3V371.8M118.1,374.8V377.3M116.2,377.3h3.8" stroke="#ff4cff" stroke-width="0.7" fill="none"/>
<rect x="116.4" y="371.7" width="3.4" height="3.2" rx="0.7" fill="#ffc8ff" stroke="#ff4cff" stroke-width="0.7"/>
<path d="M118.1,366.8h3.8M120.0,366.8V369.3M120.0,372.3V374.8M118.1,374.8h3.8" stroke="#ff4cff" stroke-width="0.7" fill="none"/>
<rect x="118.3" y="369.2" width="3.4" height="3.2" rx="0.7" fill="#ffc8ff" stroke="#ff4cff" stroke-width="0.7"/>
<path d="M120.0,364.3h3.8M121.9,364.3V366.8M121.9,369.8V372.3M120.0,372.3h3.8" stroke="#ff4cff" stroke-width="0.7" fill="none"/>
<rect x="120.2" y="366.7" width="3.4" height="3.2" rx="0.7" fill="#ffc8ff" stroke="#ff4cff" stroke-width="0.7"/>
<path d="M121.9,361.1h3.8M123.8,361.1V363.6M123.8,366.6V369.1M121.9,369.1h3.8" stroke="#ff4cff" stroke-width="0.7" fill="none"/>
<rect x="122.1" y="363.5" width="3.4" height="3.2" rx="0.7" fill="#ffc8ff" stroke="#ff4cff" stroke-width="0.7"/>
<path d="M123.8,356.1h3.8M125.7,356.1V358.6M125.7,361.6V364.1M123.8,364.1h3.8" stroke="#ff4cff" stroke-width="0.7" fill="none"/>
<rect x="124.0" y="358.5" width="3.4" height="3.2" rx="0.7" fill="#ffc8ff" stroke="#ff4cff" stroke-width="0.7"/>
<path d="M125.0,354.2h3.8M126.9,354.2V356.7M126.9,359.7V362.2M125.0,362.2h3.8" stroke="#ff4cff" stroke-width="0.7" fill="none"/>
<rect x="125.2" y="356.6" width="3.4" height="3.2" rx="0.7" fill="#ffc8ff" stroke="#ff4cff" stroke-width="0.7"/>
<path d="M126.9,357.3h3.8M128.8,357.3V359.8M128.8,362.8V365.3M126.9,365.3h3.8" stroke="#ff4cff" stroke-width="0.7" fill="none"/>
<rect x="127.1" y="359.7" width="3.4" height="3.2" rx="0.7" fill="#ffc8ff" stroke="#ff4cff" stroke-width="0.7"/>
<path d="M128.8,353.6h3.8M130.7,353.6V356.1M130.7,359.1V361.6M128.8,361.6h3.8" stroke="#ff4cff" stroke-width="0.7" fill="none"/>
<rect x="129.0" y="356.0" width="3.4" height="3.2" rx="0.7" fill="#ffc8ff" stroke="#ff4cff" stroke-width="0.7"/>
<path d="M130.7,351.7h3.8M132.6,351.7V354.2M132.6,357.2V359.7M130.7,359.7h3.8" stroke="#ff4cff" stroke-width="0.7" fill="none"/>
<rect x="130.9" y="354.1" width="3.4" height="3.2" rx="0.7" fill="#ffc8ff" stroke="#ff4cff" stroke-width="0.7"/>
<path d="M132.6,350.4h3.8M134.5,350.4V352.9M134.5,355.9V358.4M132.6,358.4h3.8" stroke="#ff4cff" stroke-width="0.7" fill="none"/>
<rect x="132.8" y="352.8" width="3.4" height="3.2" rx="0.7" fill="#ffc8ff" stroke="#ff4cff" stroke-width="0.7"/>
<path d="M134.5,352.9h3.8M136.4,352.9V355.4M136.4,358.4V360.9M134.5,360.9h3.8" stroke="#ff4cff" stroke-width="0.7" fill="none"/>
<rect x="134.7" y="355.3" width="3.4" height="3.2" rx="0.7" fill="#ffc8ff" stroke="#ff4cff" stroke-width="0.7"/>
<path d="M137.0,357.3h3.8M138.9,357.3V359.8M138.9,362.8V365.3M137.0,365.3h3.8" stroke="#ff4cff" stroke-width="0.7" fill="none"/>
<rect x="137.2" y="359.7" width="3.4" height="3.2" rx="0.7" fill="#ffc8ff" stroke="#ff4cff" stroke-width="0.7"/>
<path d="M140.1,349.8h3.8M142.0,349.8V352.3M142.0,355.3V357.8M140.1,357.8h3.8" stroke="#ff4cff" stroke-width="0.7" fill="none"/>
<rect x="140.3" y="352.2" width="3.4" height="3.2" rx="0.7" fill="#ffc8ff" stroke="#ff4cff" stroke-width="0.7"/>
<path d="M142.0,352.3h3.8M143.9,352.3V354.8M143.9,357.8V360.3M142.0,360.3h3.8" stroke="#ff4cff" stroke-width="0.7" fill="none"/>
<rect x="142.2" y="354.7" width="3.4" height="3.2" rx="0.7" fill="#ffc8ff" stroke="#ff4cff" stroke-width="0.7"/>
<path d="M147.0,353.6h3.8M148.9,353.6V356.1M148.9,359.1V361.6M147.0,361.6h3.8" stroke="#ff4cff" stroke-width="0.7" fill="none"/>
<rect x="147.2" y="356.0" width="3.4" height="3.2" rx="0.7" fill="#ffc8ff" stroke="#ff4cff" stroke-width="0.7"/>
<path d="M150.2,350.4h3.8M152.1,350.4V352.9M152.1,355.9V358.4M150.2,358.4h3.8" stroke="#ff4cff" stroke-width="0.7" fill="none"/>
<rect x="150.4" y="352.8" width="3.4" height="3.2" rx="0.7" fill="#ffc8ff" stroke="#ff4cff" stroke-width="0.7"/>
<path d="M150.8,348.5h3.8M152.7,348.5V351.0M152.7,354.0V356.5M150.8,356.5h3.8" stroke="#ff4cff" stroke-width="0.7" fill="none"/>
<rect x="151.0" y="350.9" width="3.4" height="3.2" rx="0.7" fill="#ffc8ff" stroke="#ff4cff" stroke-width="0.7"/>
<path d="M113.50,46.66 L114.80,45.97 L116.11,45.14 L117.41,44.16 L118.72,43.06 L120.02,41.85 L121.33,40.53 L122.63,39.12 L123.94,37.63 L125.24,36.10 L126.55,34.52 L127.85,32.92 L129.16,31.31 L130.46,29.72 L131.77,28.15 L133.07,26.64 L134.37,25.18 L135.68,23.81 L136.98,22.53 L138.29,21.36 L139.59,20.31 L140.90,19.40 L142.20,18.62 L143.51,18.00 L144.81,17.54 L146.12,17.24 L147.42,17.11 L148.73,17.14 L150.03,17.35 L151.34,17.71 L152.64,18.24 L153.94,18.93 L155.25,19.76 L156.55,20.74 L157.86,21.84 L159.16,23.05 L160.47,24.37 L161.77,25.78 L163.08,27.27 L164.38,28.80 L165.69,30.38 L166.99,31.98 L168.30,33.59 L169.60,35.18 L170.91,36.75 L172.21,38.26 L173.51,39.72 L174.82,41.09 L176.12,42.37 L177.43,43.54 L178.73,44.59 L180.04,45.50 L181.34,46.28 L182.65,46.90 L183.95,47.36 L185.26,47.66 L186.56,47.79 L187.87,47.76 L189.17,47.55 L190.48,47.19 L191.78,46.66 L193.08,45.97 L194.39,45.14 L195.69,44.16 L197.00,43.06 L198.30,41.85 L199.61,40.53 L200.91,39.12 L202.22,37.63 L203.52,36.10 L204.83,34.52 L206.13,32.92 L207.44,31.31 L208.74,29.72 L210.05,28.15 L211.35,26.64 L212.65,25.18 L213.96,23.81 L215.26,22.53 L216.57,21.36 L217.87,20.31 L219.18,19.40 L220.48,18.62 L221.79,18.00 L223.09,17.54 L224.40,17.24 L225.70,17.11 L227.01,17.14 L228.31,17.35 L229.62,17.71 L230.92,18.24 L232.22,18.93 L233.53,19.76 L234.83,20.74 L236.14,21.84 L237.44,23.05 L238.75,24.37 L240.05,25.78 L241.36,27.27 L242.66,28.80 L243.97,30.38 L245.27,31.98 L246.58,33.59 L247.88,35.18 L249.19,36.75 L250.49,38.26 L251.79,39.72 L253.10,41.09 L254.40,42.37 L255.71,43.54 L257.01,44.59 L258.32,45.50 L259.62,46.28 L260.93,46.90 L262.23,47.36 L263.54,47.66 L264.84,47.79 L266.15,47.76 L267.45,47.55 L268.76,47.19 L270.06,46.66" stroke="#444" stroke-width="1" fill="none"/>
<path d="M113.50,95.06 L114.80,94.37 L116.11,93.54 L117.41,92.56 L118.72,91.46 L120.02,90.25 L121.33,88.93 L122.63,87.52 L123.94,86.03 L125.24,84.50 L126.55,82.92 L127.85,81.32 L129.16,79.71 L130.46,78.12 L131.77,76.55 L133.07,75.04 L134.37,73.58 L135.68,72.21 L136.98,70.93 L138.29,69.76 L139.59,68.71 L140.90,67.80 L142.20,67.02 L143.51,66.40 L144.81,65.94 L146.12,65.64 L147.42,65.51 L148.73,65.54 L150.03,65.75 L151.34,66.11 L152.64,66.64 L153.94,67.33 L155.25,68.16 L156.55,69.14 L157.86,70.24 L159.16,71.45 L160.47,72.77 L161.77,74.18 L163.08,75.67 L164.38,77.20 L165.69,78.78 L166.99,80.38 L168.30,81.99 L169.60,83.58 L170.91,85.15 L172.21,86.66 L173.51,88.12 L174.82,89.49 L176.12,90.77 L177.43,91.94 L178.73,92.99 L180.04,93.90 L181.34,94.68 L182.65,95.30 L183.95,95.76 L185.26,96.06 L186.56,96.19 L187.87,96.16 L189.17,95.95 L190.48,95.59 L191.78,95.06 L193.08,94.37 L194.39,93.54 L195.69,92.56 L197.00,91.46 L198.30,90.25 L199.61,88.93 L200.91,87.52 L202.22,86.03 L203.52,84.50 L204.83,82.92 L206.13,81.32 L207.44,79.71 L208.74,78.12 L210.05,76.55 L211.35,75.04 L212.65,73.58 L213.96,72.21 L215.26,70.93 L216.57,69.76 L217.87,68.71 L219.18,67.80 L220.48,67.02 L221.79,66.40 L223.09,65.94 L224.40,65.64 L225.70,65.51 L227.01,65.54 L228.31,65.75 L229.62,66.11 L230.92,66.64 L232.22,67.33 L233.53,68.16 L234.83,69.14 L236.14,70.24 L237.44,71.45 L238.75,72.77 L240.05,74.18 L241.36,75.67 L242.66,77.20 L243.97,78.78 L245.27,80.38 L246.58,81.99 L247.88,83.58 L249.19,85.15 L250.49,86.66 L251.79,88.12 L253.10,89.49 L254.40,90.77 L255.71,91.94 L257.01,92.99 L258.32,93.90 L259.62,94.68 L260.93,95.30 L262.23,95.76 L263.54,96.06 L264.84,96.19 L266.15,96.16 L267.45,95.95 L268.76,95.59 L270.06,95.06" stroke="#444" stroke-width="1" fill="none"/>
<path d="M113.50,143.46 L114.80,142.77 L116.11,141.94 L117.41,140.96 L118.72,139.86 L120.02,138.65 L121.33,137.33 L122.63,135.92 L123.94,134.43 L125.24,132.90 L126.55,131.32 L127.85,129.72 L129.16,128.11 L130.46,126.52 L131.77,124.95 L133.07,123.44 L134.37,121.98 L135.68,120.61 L136.98,119.33 L138.29,118.16 L139.59,117.11 L140.90,116.20 L142.20,115.42 L143.51,114.80 L144.81,114.34 L146.12,114.04 L147.42,113.91 L148.73,113.94 L150.03,114.15 L151.34,114.51 L152.64,115.04 L153.94,115.73 L155.25,116.56 L156.55,117.54 L157.86,118.64 L159.16,119.85 L160.47,121.17 L161.77,122.58 L163.08,124.07 L164.38,125.60 L165.69,127.18 L166.99,128.78 L168.30,130.39 L169.60,131.98 L170.91,133.55 L172.21,135.06 L173.51,136.52 L174.82,137.89 L176.12,139.17 L177.43,140.34 L178.73,141.39 L180.04,142.30 L181.34,143.08 L182.65,143.70 L183.95,144.16 L185.26,144.46 L186.56,144.59 L187.87,144.56 L189.17,144.35 L190.48,143.99 L191.78,143.46 L193.08,142.77 L194.39,141.94 L195.69,140.96 L197.00,139.86 L198.30,138.65 L199.61,137.33 L200.91,135.92 L202.22,134.43 L203.52,132.90 L204.83,131.32 L206.13,129.72 L207.44,128.11 L208.74,126.52 L210.05,124.95 L211.35,123.44 L212.65,121.98 L213.96,120.61 L215.26,119.33 L216.57,118.16 L217.87,117.11 L219.18,116.20 L220.48,115.42 L221.79,114.80 L223.09,114.34 L224.40,114.04 L225.70,113.91 L227.01,113.94 L228.31,114.15 L229.62,114.51 L230.92,115.04 L232.22,115.73 L233.53,116.56 L234.83,117.54 L236.14,118.64 L237.44,119.85 L238.75,121.17 L240.05,122.58 L241.36,124.07 L242.66,125.60 L243.97,127.18 L245.27,128.78 L246.58,130.39 L247.88,131.98 L249.19,133.55 L250.49,135.06 L251.79,136.52 L253.10,137.89 L254.40,139.17 L255.71,140.34 L257.01,141.39 L258.32,142.30 L259.62,143.08 L260.93,143.70 L262.23,144.16 L263.54,144.46 L264.84,144.59 L266.15,144.56 L267.45,144.35 L268.76,143.99 L270.06,143.46" stroke="#444" stroke-width="1" fill="none"/>
<path d="M113.50,191.86 L114.80,191.17 L116.11,190.34 L117.41,189.36 L118.72,188.26 L120.02,187.05 L121.33,185.73 L122.63,184.32 L123.94,182.83 L125.24,181.30 L126.55,179.72 L127.85,178.12 L129.16,176.51 L130.46,174.92 L131.77,173.35 L133.07,171.84 L134.37,170.38 L135.68,169.01 L136.98,167.73 L138.29,166.56 L139.59,165.51 L140.90,164.60 L142.20,163.82 L143.51,163.20 L144.81,162.74 L146.12,162.44 L147.42,162.31 L148.73,162.34 L150.03,162.55 L151.34,162.91 L152.64,163.44 L153.94,164.13 L155.25,164.96 L156.55,165.94 L157.86,167.04 L159.16,168.25 L160.47,169.57 L161.77,170.98 L163.08,172.47 L164.38,174.00 L165.69,175.58 L166.99,177.18 L168.30,178.79 L169.60,180.38 L170.91,181.95 L172.21,183.46 L173.51,184.92 L174.82,186.29 L176.12,187.57 L177.43,188.74 L178.73,189.79 L180.04,190.70 L181.34,191.48 L182.65,192.10 L183.95,192.56 L185.26,192.86 L186.56,192.99 L187.87,192.96 L189.17,192.75 L190.48,192.39 L191.78,191.86 L193.08,191.17 L194.39,190.34 L195.69,189.36 L197.00,188.26 L198.30,187.05 L199.61,185.73 L200.91,184.32 L202.22,182.83 L203.52,181.30 L204.83,179.72 L206.13,178.12 L207.44,176.51 L208.74,174.92 L210.05,173.35 L211.35,171.84 L212.65,170.38 L213.96,169.01 L215.26,167.73 L216.57,166.56 L217.87,165.51 L219.18,164.60 L220.48,163.82 L221.79,163.20 L223.09,162.74 L224.40,162.44 L225.70,162.31 L227.01,162.34 L228.31,162.55 L229.62,162.91 L230.92,163.44 L232.22,164.13 L233.53,164.96 L234.83,165.94 L236.14,167.04 L237.44,168.25 L238.75,169.57 L240.05,170.98 L241.36,172.47 L242.66,174.00 L243.97,175.58 L245.27,177.18 L246.58,178.79 L247.88,180.38 L249.19,181.95 L250.49,183.46 L251.79,184.92 L253.10,186.29 L254.40,187.57 L255.71,188.74 L257.01,189.79 L258.32,190.70 L259.62,191.48 L260.93,192.10 L262.23,192.56 L263.54,192.86 L264.84,192.99 L266.15,192.96 L267.45,192.75 L268.76,192.39 L270.06,191.86" stroke="#444" stroke-width="1" fill="none"/>
<path d="M113.50,240.26 L114.80,239.57 L116.11,238.74 L117.41,237.76 L118.72,236.66 L120.02,235.45 L121.33,234.13 L122.63,232.72 L123.94,231.23 L125.24,229.70 L126.55,228.12 L127.85,226.52 L129.16,224.91 L130.46,223.32 L131.77,221.75 L133.07,220.24 L134.37,218.78 L135.68,217.41 L136.98,216.13 L138.29,214.96 L139.59,213.91 L140.90,213.00 L142.20,212.22 L143.51,211.60 L144.81,211.14 L146.12,210.84 L147.42,210.71 L148.73,210.74 L150.03,210.95 L151.34,211.31 L152.64,211.84 L153.94,212.53 L155.25,213.36 L156.55,214.34 L157.86,215.44 L159.16,216.65 L160.47,217.97 L161.77,219.38 L163.08,220.87 L164.38,222.40 L165.69,223.98 L166.99,225.58 L168.30,227.19 L169.60,228.78 L170.91,230.35 L172.21,231.86 L173.51,233.32 L174.82,234.69 L176.12,235.97 L177.43,237.14 L178.73,238.19 L180.04,239.10 L181.34,239.88 L182.65,240.50 L183.95,240.96 L185.26,241.26 L186.56,241.39 L187.87,241.36 L189.17,241.15 L190.48,240.79 L191.78,240.26 L193.08,239.57 L194.39,238.74 L195.69,237.76 L197.00,236.66 L198.30,235.45 L199.61,234.13 L200.91,232.72 L202.22,231.23 L203.52,229.70 L204.83,228.12 L206.13,226.52 L207.44,224.91 L208.74,223.32 L210.05,221.75 L211.35,220.24 L212.65,218.78 L213.96,217.41 L215.26,216.13 L216.57,214.96 L217.87,213.91 L219.18,213.00 L220.48,212.22 L221.79,211.60 L223.09,211.14 L224.40,210.84 L225.70,210.71 L227.01,210.74 L228.31,210.95 L229.62,211.31 L230.92,211.84 L232.22,212.53 L233.53,213.36 L234.83,214.34 L236.14,215.44 L237.44,216.65 L238.75,217.97 L240.05,219.38 L241.36,220.87 L242.66,222.40 L243.97,223.98 L245.27,225.58 L246.58,227.19 L247.88,228.78 L249.19,230.35 L250.49,231.86 L251.79,233.32 L253.10,234.69 L254.40,235.97 L255.71,237.14 L257.01,238.19 L258.32,239.10 L259.62,239.88 L260.93,240.50 L262.23,240.96 L263.54,241.26 L264.84,241.39 L266.15,241.36 L267.45,241.15 L268.76,240.79 L270.06,240.26" stroke="#444" stroke-width="1" fill="none"/>
<path d="M113.50,288.66 L114.80,287.97 L116.11,287.14 L117.41,286.16 L118.72,285.06 L120.02,283.85 L121.33,282.53 L122.63,281.12 L123.94,279.63 L125.24,278.10 L126.55,276.52 L127.85,274.92 L129.16,273.31 L130.46,271.72 L131.77,270.15 L133.07,268.64 L134.37,267.18 L135.68,265.81 L136.98,264.53 L138.29,263.36 L139.59,262.31 L140.90,261.40 L142.20,260.62 L143.51,260.00 L144.81,259.54 L146.12,259.24 L147.42,259.11 L148.73,259.14 L150.03,259.35 L151.34,259.71 L152.64,260.24 L153.94,260.93 L155.25,261.76 L156.55,262.74 L157.86,263.84 L159.16,265.05 L160.47,266.37 L161.77,267.78 L163.08,269.27 L164.38,270.80 L165.69,272.38 L166.99,273.98 L168.30,275.59 L169.60,277.18 L170.91,278.75 L172.21,280.26 L173.51,281.72 L174.82,283.09 L176.12,284.37 L177.43,285.54 L178.73,286.59 L180.04,287.50 L181.34,288.28 L182.65,288.90 L183.95,289.36 L185.26,289.66 L186.56,289.79 L187.87,289.76 L189.17,289.55 L190.48,289.19 L191.78,288.66 L193.08,287.97 L194.39,287.14 L195.69,286.16 L197.00,285.06 L198.30,283.85 L199.61,282.53 L200.91,281.12 L202.22,279.63 L203.52,278.10 L204.83,276.52 L206.13,274.92 L207.44,273.31 L208.74,271.72 L210.05,270.15 L211.35,268.64 L212.65,267.18 L213.96,265.81 L215.26,264.53 L216.57,263.36 L217.87,262.31 L219.18,261.40 L220.48,260.62 L221.79,260.00 L223.09,259.54 L224.40,259.24 L225.70,259.11 L227.01,259.14 L228.31,259.35 L229.62,259.71 L230.92,260.24 L232.22,260.93 L233.53,261.76 L234.83,262.74 L236.14,263.84 L237.44,265.05 L238.75,266.37 L240.05,267.78 L241.36,269.27 L242.66,270.80 L243.97,272.38 L245.27,273.98 L246.58,275.59 L247.88,277.18 L249.19,278.75 L250.49,280.26 L251.79,281.72 L253.10,283.09 L254.40,284.37 L255.71,285.54 L257.01,286.59 L258.32,287.50 L259.62,288.28 L260.93,288.90 L262.23,289.36 L263.54,289.66 L264.84,289.79 L266.15,289.76 L267.45,289.55 L268.76,289.19 L270.06,288.66" stroke="#444" stroke-width="1" fill="none"/>
<path d="M35.22,336.91 L36.52,336.22 L37.83,335.39 L39.13,334.41 L40.44,333.31 L41.74,332.10 L43.05,330.78 L44.35,329.37 L45.66,327.88 L46.96,326.35 L48.27,324.77 L49.57,323.17 L50.88,321.56 L52.18,319.97 L53.49,318.40 L54.79,316.89 L56.09,315.43 L57.40,314.06 L58.70,312.78 L60.01,311.61 L61.31,310.56 L62.62,309.65 L63.92,308.87 L65.23,308.25 L66.53,307.79 L67.84,307.49 L69.14,307.36 L70.45,307.39 L71.75,307.60 L73.06,307.96 L74.36,308.49 L75.66,309.18 L76.97,310.01 L78.27,310.99 L79.58,312.09 L80.88,313.30 L82.19,314.62 L83.49,316.03 L84.80,317.52 L86.10,319.05 L87.41,320.63 L88.71,322.23 L90.02,323.84 L91.32,325.43 L92.63,327.00 L93.93,328.51 L95.23,329.97 L96.54,331.34 L97.84,332.62 L99.15,333.79 L100.45,334.84 L101.76,335.75 L103.06,336.53 L104.37,337.15 L105.67,337.61 L106.98,337.91 L108.28,338.04 L109.59,338.01 L110.89,337.80 L112.20,337.44 L113.50,336.91 L114.80,336.22 L116.11,335.39 L117.41,334.41 L118.72,333.31 L120.02,332.10 L121.33,330.78 L122.63,329.37 L123.94,327.88 L125.24,326.35 L126.55,324.77 L127.85,323.17 L129.16,321.56 L130.46,319.97 L131.77,318.40 L133.07,316.89 L134.37,315.43 L135.68,314.06 L136.98,312.78 L138.29,311.61 L139.59,310.56 L140.90,309.65 L142.20,308.87 L143.51,308.25 L144.81,307.79 L146.12,307.49 L147.42,307.36 L148.73,307.39 L150.03,307.60 L151.34,307.96 L152.64,308.49 L153.94,309.18 L155.25,310.01 L156.55,310.99 L157.86,312.09 L159.16,313.30 L160.47,314.62 L161.77,316.03 L163.08,317.52 L164.38,319.05 L165.69,320.63 L166.99,322.23 L168.30,323.84 L169.60,325.43 L170.91,327.00 L172.21,328.51 L173.51,329.97 L174.82,331.34 L176.12,332.62 L177.43,333.79 L178.73,334.84 L180.04,335.75 L181.34,336.53 L182.65,337.15 L183.95,337.61 L185.26,337.91 L186.56,338.04 L187.87,338.01 L189.17,337.80 L190.48,337.44 L191.78,336.91" stroke="#444" stroke-width="1" fill="none"/>
<path d="M35.22,385.21 L36.52,384.52 L37.83,383.69 L39.13,382.71 L40.44,381.61 L41.74,380.40 L43.05,379.08 L44.35,377.67 L45.66,376.18 L46.96,374.65 L48.27,373.07 L49.57,371.47 L50.88,369.86 L52.18,368.27 L53.49,366.70 L54.79,365.19 L56.09,363.73 L57.40,362.36 L58.70,361.08 L60.01,359.91 L61.31,358.86 L62.62,357.95 L63.92,357.17 L65.23,356.55 L66.53,356.09 L67.84,355.79 L69.14,355.66 L70.45,355.69 L71.75,355.90 L73.06,356.26 L74.36,356.79 L75.66,357.48 L76.97,358.31 L78.27,359.29 L79.58,360.39 L80.88,361.60 L82.19,362.92 L83.49,364.33 L84.80,365.82 L86.10,367.35 L87.41,368.93 L88.71,370.53 L90.02,372.14 L91.32,373.73 L92.63,375.30 L93.93,376.81 L95.23,378.27 L96.54,379.64 L97.84,380.92 L99.15,382.09 L100.45,383.14 L101.76,384.05 L103.06,384.83 L104.37,385.45 L105.67,385.91 L106.98,386.21 L108.28,386.34 L109.59,386.31 L110.89,386.10 L112.20,385.74 L113.50,385.21 L114.80,384.52 L116.11,383.69 L117.41,382.71 L118.72,381.61 L120.02,380.40 L121.33,379.08 L122.63,377.67 L123.94,376.18 L125.24,374.65 L126.55,373.07 L127.85,371.47 L129.16,369.86 L130.46,368.27 L131.77,366.70 L133.07,365.19 L134.37,363.73 L135.68,362.36 L136.98,361.08 L138.29,359.91 L139.59,358.86 L140.90,357.95 L142.20,357.17 L143.51,356.55 L144.81,356.09 L146.12,355.79 L147.42,355.66 L148.73,355.69 L150.03,355.90 L151.34,356.26 L152.64,356.79 L153.94,357.48 L155.25,358.31 L156.55,359.29 L157.86,360.39 L159.16,361.60 L160.47,362.92 L161.77,364.33 L163.08,365.82 L164.38,367.35 L165.69,368.93 L166.99,370.53 L168.30,372.14 L169.60,373.73 L170.91,375.30 L172.21,376.81 L173.51,378.27 L174.82,379.64 L176.12,380.92 L177.43,382.09 L178.73,383.14 L180.04,384.05 L181.34,384.83 L182.65,385.45 L183.95,385.91 L185.26,386.21 L186.56,386.34 L187.87,386.31 L189.17,386.10 L190.48,385.74 L191.78,385.21" stroke="#444" stroke-width="1" fill="none"/>
</svg>
</body></html>
